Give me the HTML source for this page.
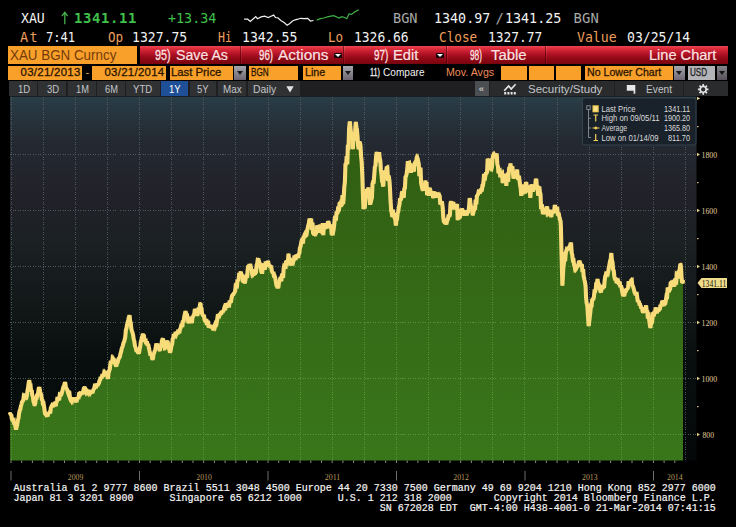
<!DOCTYPE html>
<html lang="en"><head><meta charset="utf-8"><title>XAU BGN Curncy - Line Chart</title>
<style>
html,body{margin:0;padding:0;background:#000;}
#app{position:relative;width:736px;height:527px;background:#000;overflow:hidden;font-family:"Liberation Sans",sans-serif;}
.t{position:absolute;white-space:pre;display:block;transform-origin:0 50%;}
.b{position:absolute;}
.bd{-webkit-text-stroke:0.3px currentColor;}
.bd2{-webkit-text-stroke:0.2px currentColor;}
.or{background:#f9a02a;}
.red{background:linear-gradient(#ee4452 0%,#dc2c3a 15%,#b8152a 40%,#960a18 65%,#78040e 100%);}
.dd{background:linear-gradient(#a6a6ae,#6e6672);}
.dd:after{content:"";position:absolute;left:50%;top:50%;margin:-1.5px 0 0 -3px;border:3px solid transparent;border-top:4px solid #1a1a1a;border-bottom:0;}
.sep{background:linear-gradient(#f0606a,#c02030 40%,#8a0c18);width:1px;box-shadow:-1px 0 0 rgba(70,0,8,.55);}
.ddw{background:#14060a;border-radius:1px;}
.ddw:after{content:"";position:absolute;left:50%;top:50%;margin:-1.4px 0 0 -3px;border:3px solid transparent;border-top:3px solid #fff;border-bottom:0;}
#foot{position:absolute;left:13.6px;top:484.1px;-webkit-text-stroke:0.2px #f4f4f4;margin:0;font:10px/10px "Liberation Mono","DejaVu Sans Mono",monospace;color:#f4f4f4;white-space:pre;letter-spacing:0;}
</style></head>
<body><div id="app">
<svg width="736" height="46" viewBox="0 0 736 46" style="position:absolute;left:0;top:0"><polyline points="244.1,19.2 247.7,19.2 250.3,21.4 253.9,18.3 255.7,16.6 257.5,18.7 261.1,16.9 264.7,16.2 268.3,17.5 271,16.2 273.7,15.1 275.5,17.5 278.1,18 280.8,20.5 284.4,22.8 287.1,25.2 289.8,23.4 292.5,21 295.2,19.8 297.9,19.2 300.6,18.3 304.1,18.7 307.7,18.3 310.4,21 313.5,20.5" fill="none" stroke="#f0f0f0" stroke-width="1.2"/><polyline points="316.7,20.1 320.3,18.7 323.9,18 327.5,16.9 331,16.2 333.7,15.7 336.4,16.9 339.1,18 341.8,16.6 344.5,17.5 346.8,18.7 349,13.9 351.7,14.4 354.4,12.1 358.8,9.7" fill="none" stroke="#3fae45" stroke-width="1.2"/><path d="M64.8,24.2 V12.6 M61.9,16.2 L64.8,12.3 L67.7,16.2" fill="none" stroke="#48b44e" stroke-width="1.25"/></svg>
<div class="b or" style="left:8px;top:46.4px;width:129.00px;height:18.00px;"></div>
<div class="b red" style="left:140px;top:46.4px;width:587.75px;height:18.10px;"></div>
<div class="b sep" style="left:241px;top:46.4px;width:1.00px;height:18.10px;"></div>
<div class="b sep" style="left:344px;top:46.4px;width:1.00px;height:18.10px;"></div>
<div class="b sep" style="left:446.5px;top:46.4px;width:1.00px;height:18.10px;"></div>
<div class="b sep" style="left:546px;top:46.4px;width:1.00px;height:18.10px;"></div>
<div class="b ddw" style="left:333.8px;top:53px;width:8.00px;height:4.90px;"></div>
<div class="b ddw" style="left:435.6px;top:53px;width:8.00px;height:4.90px;"></div>
<div class="b or" style="left:8px;top:65.75px;width:74.00px;height:14.45px;"></div>
<div class="b or" style="left:92px;top:65.75px;width:73.50px;height:14.45px;"></div>
<div class="b or" style="left:170px;top:65.75px;width:62.50px;height:14.45px;"></div>
<div class="b dd" style="left:234px;top:65.75px;width:11.50px;height:14.45px;"></div>
<div class="b or" style="left:249px;top:65.75px;width:49.00px;height:14.45px;"></div>
<div class="b or" style="left:302.5px;top:65.75px;width:38.50px;height:14.45px;"></div>
<div class="b dd" style="left:342.5px;top:65.75px;width:10.00px;height:14.45px;"></div>
<div class="b or" style="left:501px;top:65.75px;width:26.00px;height:14.45px;"></div>
<div class="b or" style="left:528.75px;top:65.75px;width:25.00px;height:14.45px;"></div>
<div class="b or" style="left:555.5px;top:65.75px;width:25.00px;height:14.45px;"></div>
<div class="b or" style="left:585px;top:65.75px;width:87.50px;height:14.45px;"></div>
<div class="b dd" style="left:674px;top:65.75px;width:10.50px;height:14.45px;"></div>
<div class="b " style="left:688px;top:65.75px;width:26.50px;height:14.45px;background:#b4b4b8"></div>
<div class="b dd" style="left:717px;top:65.75px;width:10.00px;height:14.45px;opacity:.8"></div>
<div class="b " style="left:8.5px;top:81.3px;width:719.25px;height:14.90px;background:#1f1f21"></div>
<div class="b " style="left:9px;top:81.3px;width:28.00px;height:14.90px;background:#303133"></div>
<div class="b " style="left:38px;top:81.3px;width:28.00px;height:14.90px;background:#303133"></div>
<div class="b " style="left:67.5px;top:81.3px;width:28.00px;height:14.90px;background:#303133"></div>
<div class="b " style="left:97px;top:81.3px;width:28.00px;height:14.90px;background:#303133"></div>
<div class="b " style="left:126px;top:81.3px;width:34.00px;height:14.90px;background:#303133"></div>
<div class="b " style="left:189.5px;top:81.3px;width:26.50px;height:14.90px;background:#303133"></div>
<div class="b " style="left:217.5px;top:81.3px;width:28.50px;height:14.90px;background:#303133"></div>
<div class="b " style="left:247.5px;top:81.3px;width:52.50px;height:14.90px;background:#303133"></div>
<div class="b " style="left:160.5px;top:81.3px;width:27.50px;height:14.90px;background:#1f4f96"></div>
<div class="b " style="left:474.5px;top:81.3px;width:14.25px;height:14.90px;background:#4c4f52"></div>
<div class="b " style="left:489.5px;top:81.3px;width:124.00px;height:14.90px;background:#2a2b2d"></div>
<div class="b " style="left:614.5px;top:81.3px;width:68.00px;height:14.90px;background:#2a2b2d"></div>
<div class="b " style="left:683.5px;top:81.3px;width:44.25px;height:14.90px;background:#2a2b2d"></div>
<svg width="736" height="100" viewBox="0 0 736 100" style="position:absolute;left:0;top:0">
<path d="M286.3,86.3 h7.4 l-3.7,6.2 z" fill="#e4e4e4"/>
<path d="M504.2,92 h2 v2.6 h-2z M507.4,92 h2 v2.6 h-2z M510.6,92 h2 v2.6 h-2z M513.8,92 h2 v2.6 h-2z" fill="#e6e6e6"/>
<path d="M504.2,90.8 L508.6,86 L511.2,89 L515.6,84.2" stroke="#e6e6e6" stroke-width="1.7" fill="none"/>
<path d="M626.8,84.9 h8.5 v8.8 h-1.7 v-3 h-6.8 z" fill="#e8e8e8"/>
<g transform="translate(703.2,89.4)"><circle r="3.0" fill="none" stroke="#e4e4e4" stroke-width="1.7"/><path d="M3.40,0.00 L5.30,0.00 M2.40,2.40 L3.75,3.75 M0.00,3.40 L0.00,5.30 M-2.40,2.40 L-3.75,3.75 M-3.40,0.00 L-5.30,0.00 M-2.40,-2.40 L-3.75,-3.75 M-0.00,-3.40 L-0.00,-5.30 M2.40,-2.40 L3.75,-3.75" stroke="#e4e4e4" stroke-width="1.7" fill="none"/></g>
</svg>
<svg id="chart" width="736" height="527" viewBox="0 0 736 527" style="position:absolute;left:0;top:0">
<defs>
<linearGradient id="bg" x1="0" y1="0" x2="0" y2="1">
<stop offset="0" stop-color="#2b3f49"/><stop offset="0.025" stop-color="#283842"/><stop offset="0.12" stop-color="#242a32"/><stop offset="0.257" stop-color="#22222a"/><stop offset="0.42" stop-color="#1a2022"/><stop offset="0.575" stop-color="#121818"/><stop offset="0.73" stop-color="#080e0e"/><stop offset="1" stop-color="#050808"/>
</linearGradient>
<linearGradient id="gr" gradientUnits="userSpaceOnUse" x1="0" y1="120" x2="0" y2="460">
<stop offset="0" stop-color="#305c12"/><stop offset="1" stop-color="#39761a"/>
</linearGradient>
</defs>
<rect x="10" y="96.5" width="686.5" height="364.0" fill="url(#bg)"/>
<path d="M11.0,96.5 V460.5 M43.1,96.5 V460.5 M75.2,96.5 V460.5 M107.4,96.5 V460.5 M139.5,96.5 V460.5 M171.6,96.5 V460.5 M203.7,96.5 V460.5 M235.8,96.5 V460.5 M268.0,96.5 V460.5 M300.1,96.5 V460.5 M332.2,96.5 V460.5 M364.3,96.5 V460.5 M396.4,96.5 V460.5 M428.6,96.5 V460.5 M460.7,96.5 V460.5 M492.8,96.5 V460.5 M524.9,96.5 V460.5 M557.0,96.5 V460.5 M589.2,96.5 V460.5 M621.3,96.5 V460.5 M653.4,96.5 V460.5 M685.5,96.5 V460.5 M10,154.5 H696.5 M10,210.5 H696.5 M10,266.5 H696.5 M10,322.5 H696.5 M10,378.5 H696.5 M10,434.5 H696.5" stroke="#5b686c" stroke-opacity="0.8" stroke-width="1" stroke-dasharray="1,1.5" fill="none" shape-rendering="crispEdges"/>
<defs><path id="ar" d="M10.1,460.5 L10.1,413.4 L10.4,414.0 L10.7,414.6 L11.0,414.8 L11.3,415.0 L11.6,417.0 L11.9,419.1 L12.2,419.8 L12.5,420.5 L12.8,420.7 L13.0,420.9 L13.1,421.0 L13.4,420.6 L13.7,420.2 L14.0,422.4 L14.3,424.7 L14.6,424.1 L14.9,423.5 L15.2,425.2 L15.5,427.0 L15.8,428.7 L16.0,429.6 L16.1,429.2 L16.4,427.9 L16.7,426.8 L17.0,425.4 L17.3,423.9 L17.6,421.9 L17.9,419.9 L18.0,419.7 L18.2,419.1 L18.5,418.3 L18.8,415.9 L19.1,413.4 L19.4,412.1 L19.7,410.7 L20.0,409.8 L20.3,409.5 L20.6,407.8 L20.9,406.0 L21.2,405.1 L21.5,404.1 L21.8,402.8 L22.0,401.9 L22.1,401.6 L22.4,401.5 L22.7,401.4 L23.0,400.6 L23.3,399.9 L23.6,397.5 L23.9,395.2 L24.0,395.3 L24.2,395.9 L24.5,396.8 L24.8,397.2 L25.1,397.6 L25.4,396.2 L25.7,394.7 L26.0,395.9 L26.3,397.0 L26.5,397.3 L26.6,396.9 L26.9,395.8 L27.2,393.1 L27.5,390.4 L27.8,389.0 L28.1,387.6 L28.4,385.1 L28.7,382.9 L29.0,381.2 L29.2,380.2 L29.3,380.5 L29.6,382.4 L29.9,385.0 L30.2,385.2 L30.5,385.1 L30.8,388.4 L31.1,391.8 L31.4,390.9 L31.7,390.0 L31.9,391.9 L32.0,392.8 L32.3,395.6 L32.6,396.0 L32.9,396.5 L33.2,399.1 L33.5,401.7 L33.8,402.4 L34.1,403.1 L34.4,404.5 L34.5,404.8 L34.7,404.8 L35.0,404.0 L35.3,403.0 L35.6,400.7 L35.9,398.4 L36.2,399.0 L36.5,399.7 L36.8,396.8 L37.1,394.0 L37.2,394.2 L37.4,394.5 L37.7,394.8 L38.0,393.2 L38.3,391.5 L38.6,389.6 L38.9,388.0 L39.2,387.4 L39.3,387.1 L39.5,388.2 L39.8,389.7 L40.1,391.2 L40.4,392.5 L40.7,393.7 L41.0,394.3 L41.3,395.0 L41.6,397.4 L41.9,399.9 L42.0,400.0 L42.2,400.1 L42.5,400.2 L42.8,402.8 L43.1,405.4 L43.4,404.9 L43.7,404.4 L44.0,406.3 L44.3,408.2 L44.6,410.5 L44.9,412.9 L45.2,414.1 L45.5,414.4 L45.8,413.5 L46.1,412.5 L46.4,414.0 L46.7,415.5 L47.0,415.3 L47.3,415.1 L47.6,415.3 L47.8,415.4 L47.9,415.1 L48.2,414.2 L48.5,413.2 L48.8,413.0 L49.1,412.7 L49.4,412.3 L49.7,411.8 L50.0,412.0 L50.3,412.1 L50.6,409.8 L50.9,407.4 L51.2,407.0 L51.5,406.5 L51.8,405.6 L52.1,405.1 L52.4,406.1 L52.7,407.1 L53.0,405.2 L53.3,403.3 L53.6,403.9 L53.9,404.6 L54.2,403.9 L54.5,403.2 L54.8,403.3 L55.1,403.5 L55.4,404.8 L55.7,406.2 L56.0,404.0 L56.3,401.9 L56.6,401.7 L56.9,401.5 L57.1,400.2 L57.2,399.4 L57.5,397.0 L57.8,398.8 L58.1,400.5 L58.4,399.6 L58.7,398.7 L59.0,398.7 L59.3,398.8 L59.6,396.3 L59.9,393.9 L60.2,394.1 L60.5,394.4 L60.8,394.6 L61.1,394.8 L61.4,394.1 L61.7,393.4 L62.0,392.2 L62.3,391.1 L62.6,390.0 L62.9,388.9 L63.2,387.7 L63.5,386.5 L63.8,386.2 L64.1,385.9 L64.4,384.5 L64.7,383.1 L65.0,382.4 L65.1,382.1 L65.3,383.1 L65.6,385.3 L65.9,388.1 L66.2,388.4 L66.5,388.4 L66.8,388.9 L67.1,389.4 L67.4,390.5 L67.7,391.5 L67.7,391.5 L68.0,390.9 L68.3,390.2 L68.6,392.3 L68.9,394.4 L69.2,394.0 L69.5,393.7 L69.8,396.1 L70.1,398.4 L70.4,399.3 L70.7,400.1 L71.0,399.8 L71.3,399.5 L71.6,400.9 L71.7,401.3 L71.9,401.7 L72.2,400.5 L72.5,399.3 L72.8,400.3 L73.1,401.2 L73.4,399.4 L73.7,397.5 L74.0,398.4 L74.3,399.2 L74.6,399.7 L74.9,400.1 L75.2,400.7 L75.5,401.3 L75.8,401.3 L76.1,401.3 L76.4,401.2 L76.7,401.2 L77.0,399.8 L77.0,399.8 L77.3,398.0 L77.6,398.0 L77.9,397.9 L78.2,398.5 L78.5,399.0 L78.8,396.1 L79.1,393.2 L79.4,393.0 L79.7,392.8 L80.0,393.8 L80.3,394.8 L80.6,394.4 L80.9,394.1 L81.0,394.0 L81.2,393.8 L81.5,393.6 L81.8,393.2 L82.1,392.8 L82.4,393.6 L82.7,394.4 L83.0,392.7 L83.3,390.9 L83.6,389.5 L83.9,388.1 L84.2,387.8 L84.5,387.5 L84.8,387.6 L85.0,387.7 L85.1,387.9 L85.4,388.8 L85.7,389.8 L86.0,389.8 L86.3,389.8 L86.6,391.6 L86.9,393.4 L87.2,393.0 L87.5,392.6 L87.8,392.0 L88.1,391.4 L88.4,391.5 L88.7,391.6 L89.0,390.9 L89.0,390.9 L89.3,390.0 L89.6,391.8 L89.9,393.7 L90.2,393.2 L90.5,392.7 L90.8,392.6 L91.1,392.4 L91.4,391.3 L91.7,390.2 L92.0,391.8 L92.3,393.4 L92.6,392.3 L92.9,391.1 L93.0,391.0 L93.2,390.3 L93.5,389.3 L93.8,389.1 L94.1,388.8 L94.4,387.5 L94.7,386.2 L95.0,386.6 L95.3,387.1 L95.6,387.8 L95.9,388.4 L96.2,386.0 L96.5,383.5 L96.8,384.6 L97.0,385.3 L97.1,385.6 L97.4,385.5 L97.7,385.4 L98.0,384.6 L98.3,383.9 L98.6,383.6 L98.9,383.4 L99.2,381.9 L99.5,380.5 L99.8,380.3 L100.1,380.1 L100.4,378.5 L100.7,376.8 L101.0,377.5 L101.0,377.5 L101.3,378.6 L101.6,377.7 L101.9,376.9 L102.2,375.4 L102.5,373.9 L102.8,375.4 L103.1,376.9 L103.4,375.9 L103.7,375.0 L104.0,373.5 L104.3,372.0 L104.6,372.5 L104.9,373.0 L105.0,372.8 L105.2,373.0 L105.5,373.2 L105.8,373.0 L106.1,372.7 L106.4,374.5 L106.7,376.2 L107.0,375.5 L107.3,374.8 L107.6,377.8 L107.9,378.9 L108.2,376.1 L108.5,373.3 L108.8,372.1 L109.1,370.9 L109.4,370.3 L109.7,369.7 L110.0,367.2 L110.3,364.7 L110.6,362.8 L110.9,360.8 L111.2,361.5 L111.5,362.1 L111.8,362.5 L112.1,363.0 L112.4,360.4 L112.7,357.7 L112.9,358.0 L113.0,358.5 L113.3,360.0 L113.6,359.9 L113.9,359.8 L114.2,362.1 L114.5,364.4 L114.8,362.4 L115.1,360.5 L115.4,362.9 L115.7,365.3 L116.0,365.9 L116.3,366.6 L116.6,365.1 L116.9,363.6 L116.9,363.6 L117.2,361.6 L117.5,359.5 L117.8,360.1 L118.1,360.6 L118.4,359.4 L118.7,358.1 L119.0,358.0 L119.3,358.0 L119.6,357.3 L119.9,356.6 L120.2,355.1 L120.5,353.6 L120.8,352.7 L120.9,352.4 L121.1,351.8 L121.4,350.3 L121.7,348.7 L122.0,348.0 L122.3,347.3 L122.6,346.3 L122.9,345.3 L123.2,344.0 L123.5,342.7 L123.8,342.2 L124.1,341.8 L124.4,340.6 L124.7,339.5 L124.9,338.7 L125.0,338.2 L125.3,336.6 L125.6,333.3 L125.9,329.9 L126.2,329.0 L126.5,328.2 L126.8,326.3 L127.0,325.0 L127.1,324.3 L127.4,323.3 L127.7,322.2 L128.0,321.0 L128.3,319.8 L128.6,318.2 L128.9,316.9 L129.2,316.4 L129.5,315.2 L129.8,317.7 L130.1,320.8 L130.4,321.9 L130.7,322.4 L131.0,325.6 L131.3,328.7 L131.6,329.8 L131.9,330.9 L132.2,331.7 L132.5,332.6 L132.8,333.8 L133.1,335.0 L133.4,337.1 L133.7,339.2 L134.0,340.2 L134.3,341.1 L134.6,343.4 L134.9,345.6 L135.2,346.4 L135.5,347.3 L135.8,348.1 L136.1,349.0 L136.2,350.1 L136.4,350.7 L136.7,351.9 L137.0,350.7 L137.3,349.5 L137.6,350.9 L137.9,352.2 L138.2,352.8 L138.5,353.4 L138.8,353.8 L138.8,353.6 L139.1,352.4 L139.4,350.6 L139.7,348.8 L140.0,347.1 L140.3,345.5 L140.6,343.3 L140.9,341.2 L141.2,340.5 L141.5,339.9 L141.8,338.3 L142.1,336.6 L142.4,335.6 L142.7,334.5 L143.0,333.7 L143.3,335.0 L143.6,335.5 L143.9,335.6 L144.2,338.2 L144.5,340.9 L144.8,341.1 L145.1,341.3 L145.4,340.9 L145.7,340.6 L146.0,342.3 L146.2,343.8 L146.3,344.0 L146.6,342.6 L146.9,341.1 L147.2,343.4 L147.5,345.8 L147.8,344.8 L148.1,343.8 L148.4,345.2 L148.7,346.7 L149.0,348.1 L149.3,349.5 L149.5,350.3 L149.6,350.9 L149.9,352.4 L150.2,354.1 L150.5,355.8 L150.8,354.7 L151.1,353.6 L151.4,354.5 L151.7,355.6 L152.0,357.6 L152.3,359.2 L152.5,360.0 L152.6,359.6 L152.9,358.6 L153.2,356.7 L153.5,354.3 L153.8,353.7 L154.1,353.1 L154.4,352.0 L154.7,350.9 L155.0,350.4 L155.3,349.9 L155.6,348.1 L155.9,346.2 L156.2,344.7 L156.2,344.5 L156.5,344.5 L156.8,344.6 L157.1,344.6 L157.4,344.5 L157.7,344.5 L158.0,346.0 L158.3,347.5 L158.6,347.8 L158.9,348.1 L159.2,349.1 L159.5,350.1 L159.8,350.0 L160.0,350.0 L160.1,349.5 L160.4,348.2 L160.7,347.0 L161.0,346.5 L161.3,346.0 L161.6,343.6 L161.9,341.1 L162.2,340.1 L162.5,339.1 L162.8,339.2 L163.1,339.3 L163.4,340.4 L163.7,341.5 L164.0,342.9 L164.3,344.3 L164.6,346.4 L164.9,348.5 L165.0,348.4 L165.2,347.5 L165.5,346.1 L165.8,345.2 L166.1,344.3 L166.4,342.5 L166.7,340.6 L167.0,341.2 L167.3,341.7 L167.5,341.2 L167.6,341.6 L167.9,342.8 L168.2,344.6 L168.5,346.4 L168.8,347.7 L169.1,348.9 L169.4,350.1 L169.7,351.3 L170.0,352.8 L170.3,351.9 L170.6,350.7 L170.9,349.3 L171.2,347.2 L171.5,345.2 L171.8,344.9 L172.1,344.5 L172.4,341.7 L172.7,338.8 L173.0,338.4 L173.3,338.1 L173.6,335.8 L173.8,334.6 L173.9,334.0 L174.2,335.6 L174.5,337.1 L174.8,335.9 L175.1,334.6 L175.4,335.2 L175.7,335.9 L176.0,335.1 L176.3,334.4 L176.6,333.1 L176.9,331.7 L177.2,333.1 L177.5,334.4 L177.8,332.7 L178.1,331.0 L178.4,331.1 L178.7,331.2 L178.8,331.4 L179.0,332.2 L179.3,333.2 L179.6,331.2 L179.9,329.2 L180.2,328.8 L180.5,328.4 L180.8,327.3 L181.1,326.2 L181.4,324.8 L181.7,323.5 L182.0,325.3 L182.3,327.2 L182.5,325.3 L182.6,324.1 L182.9,320.3 L183.2,321.2 L183.5,322.2 L183.8,320.0 L184.1,317.7 L184.4,316.1 L184.7,314.5 L185.0,313.3 L185.3,312.0 L185.5,311.2 L185.6,311.5 L185.9,312.6 L186.2,314.0 L186.5,315.5 L186.8,315.4 L187.1,315.2 L187.4,316.7 L187.7,318.1 L188.0,320.2 L188.3,322.2 L188.6,322.2 L188.8,322.2 L188.9,321.4 L189.2,320.5 L189.5,319.6 L189.8,320.4 L190.1,321.2 L190.4,321.3 L190.7,321.5 L191.0,319.7 L191.3,317.9 L191.6,320.4 L191.9,323.0 L192.2,320.1 L192.5,317.1 L192.8,316.9 L193.1,316.6 L193.4,315.7 L193.7,314.8 L194.0,314.4 L194.3,314.1 L194.6,311.5 L194.9,308.8 L195.0,309.2 L195.2,310.3 L195.5,312.1 L195.8,311.6 L196.1,311.1 L196.4,311.6 L196.7,312.0 L197.0,313.5 L197.3,315.0 L197.5,315.0 L197.6,314.6 L197.9,313.5 L198.2,310.6 L198.5,307.7 L198.8,308.3 L199.1,308.9 L199.4,307.7 L199.7,306.5 L200.0,304.9 L200.3,303.7 L200.5,303.8 L200.6,304.5 L200.9,307.5 L201.2,308.4 L201.5,308.6 L201.8,311.2 L202.1,313.7 L202.4,314.3 L202.7,314.9 L203.0,315.4 L203.3,315.8 L203.6,315.4 L203.8,315.3 L203.9,314.7 L204.2,317.2 L204.5,319.7 L204.8,320.5 L205.1,321.2 L205.4,321.5 L205.7,321.8 L206.0,320.4 L206.3,319.0 L206.6,322.1 L206.9,325.1 L207.2,323.5 L207.5,321.8 L207.8,321.9 L208.1,321.9 L208.4,324.8 L208.7,327.7 L209.0,327.1 L209.3,326.5 L209.6,325.6 L209.9,324.7 L210.2,326.0 L210.5,327.2 L210.8,326.2 L211.1,325.2 L211.4,326.8 L211.7,328.4 L212.0,327.5 L212.3,326.6 L212.6,327.7 L212.9,328.8 L213.0,329.0 L213.2,328.8 L213.5,328.3 L213.8,327.5 L214.1,326.6 L214.4,327.2 L214.7,327.8 L215.0,326.6 L215.3,325.4 L215.6,324.1 L215.9,322.7 L216.2,323.0 L216.2,323.1 L216.5,323.6 L216.8,321.8 L217.1,320.0 L217.4,318.0 L217.7,316.0 L218.0,316.2 L218.3,316.4 L218.6,315.2 L218.9,314.1 L219.2,314.9 L219.5,315.7 L219.8,314.9 L220.0,314.3 L220.1,314.0 L220.4,313.6 L220.7,313.2 L221.0,313.4 L221.3,313.5 L221.6,312.2 L221.9,310.9 L222.2,311.8 L222.5,312.8 L222.8,311.9 L223.1,311.0 L223.4,310.7 L223.7,310.5 L224.0,309.2 L224.3,307.8 L224.6,307.0 L224.9,306.2 L225.0,306.4 L225.2,306.8 L225.5,307.3 L225.8,305.2 L226.1,303.1 L226.4,304.8 L226.7,306.6 L227.0,306.6 L227.3,306.6 L227.6,305.6 L227.9,304.5 L228.2,304.8 L228.5,305.2 L228.8,305.5 L229.1,305.7 L229.4,303.0 L229.7,300.3 L230.0,301.4 L230.3,302.2 L230.6,302.2 L230.9,302.1 L231.2,300.3 L231.5,298.4 L231.8,297.1 L232.1,295.8 L232.4,295.2 L232.7,294.6 L233.0,294.6 L233.3,294.6 L233.6,294.0 L233.8,293.6 L233.9,293.2 L234.2,292.8 L234.5,292.5 L234.8,291.9 L235.1,291.2 L235.4,288.6 L235.7,285.9 L236.0,286.3 L236.3,286.6 L236.6,286.8 L236.9,286.9 L237.2,283.3 L237.5,279.6 L237.8,280.3 L238.1,281.1 L238.4,280.0 L238.7,278.8 L239.0,275.9 L239.3,272.9 L239.6,273.4 L239.9,273.8 L240.2,273.3 L240.5,272.5 L240.8,271.5 L240.8,271.8 L241.1,273.4 L241.4,274.1 L241.7,274.3 L242.0,275.3 L242.3,276.3 L242.6,279.3 L242.9,282.1 L243.2,281.6 L243.5,281.8 L243.8,282.5 L243.8,282.3 L244.1,281.1 L244.4,281.8 L244.7,283.4 L245.0,282.1 L245.3,280.8 L245.6,278.8 L245.9,276.7 L246.2,275.7 L246.5,274.7 L246.8,276.3 L247.0,277.3 L247.1,277.8 L247.4,273.6 L247.7,269.4 L248.0,267.4 L248.3,265.4 L248.6,266.2 L248.9,266.7 L249.2,265.3 L249.5,264.0 L249.5,264.0 L249.8,265.5 L250.1,267.2 L250.4,267.1 L250.7,266.6 L251.0,268.1 L251.3,269.6 L251.6,271.2 L251.9,272.7 L252.2,274.3 L252.5,275.4 L252.5,275.4 L252.8,274.9 L253.1,274.0 L253.4,274.9 L253.7,275.7 L254.0,272.5 L254.3,269.3 L254.6,272.0 L254.9,274.8 L255.2,272.2 L255.5,269.5 L255.8,270.0 L256.1,270.4 L256.2,269.3 L256.4,267.8 L256.7,264.8 L257.0,264.1 L257.3,263.4 L257.6,260.6 L257.9,258.6 L258.2,258.4 L258.2,258.3 L258.5,259.4 L258.8,260.4 L259.1,261.5 L259.4,263.6 L259.7,265.6 L260.0,265.4 L260.3,265.1 L260.6,267.2 L260.9,269.3 L261.2,270.9 L261.2,271.2 L261.5,271.2 L261.8,272.5 L262.1,273.8 L262.4,270.9 L262.7,268.0 L263.0,265.8 L263.3,263.5 L263.6,264.8 L263.9,266.2 L264.2,267.4 L264.5,268.6 L264.8,268.7 L265.0,268.7 L265.1,268.5 L265.4,265.0 L265.7,261.4 L266.0,263.8 L266.3,266.3 L266.6,265.7 L266.9,265.1 L267.2,263.8 L267.5,262.3 L267.8,261.5 L268.0,260.8 L268.1,261.4 L268.4,262.8 L268.7,263.9 L269.0,264.8 L269.3,265.4 L269.6,265.5 L269.9,265.6 L270.2,266.7 L270.5,267.8 L270.8,266.6 L271.1,265.4 L271.2,266.7 L271.4,267.9 L271.7,270.3 L272.0,271.4 L272.3,272.4 L272.6,272.7 L272.9,273.0 L273.2,272.9 L273.5,272.9 L273.8,275.2 L274.1,277.5 L274.4,276.8 L274.7,276.2 L275.0,277.0 L275.3,278.4 L275.6,280.2 L275.9,282.0 L276.2,283.7 L276.5,285.3 L276.8,285.2 L277.1,285.8 L277.4,287.8 L277.5,288.4 L277.7,287.7 L278.0,287.5 L278.3,288.0 L278.6,285.5 L278.9,282.8 L279.2,281.7 L279.5,280.6 L279.8,279.8 L280.1,279.0 L280.4,277.8 L280.5,277.4 L280.7,276.9 L281.0,279.1 L281.3,281.3 L281.6,278.2 L281.9,275.1 L282.2,274.4 L282.5,273.7 L282.8,275.8 L283.1,278.0 L283.4,273.1 L283.7,268.1 L283.8,267.9 L284.0,266.8 L284.3,265.3 L284.6,265.6 L284.9,265.9 L285.2,267.5 L285.5,269.0 L285.8,264.8 L286.1,260.5 L286.2,261.7 L286.4,263.0 L286.7,265.8 L287.0,263.0 L287.3,260.2 L287.6,261.0 L287.9,261.9 L288.2,257.7 L288.5,253.6 L288.8,256.9 L289.1,260.3 L289.4,259.5 L289.5,259.3 L289.7,259.5 L290.0,259.4 L290.3,259.3 L290.6,262.5 L290.9,265.6 L291.2,262.7 L291.5,259.8 L291.8,261.4 L292.1,262.9 L292.4,263.6 L292.5,263.9 L292.7,264.0 L293.0,262.6 L293.3,261.3 L293.6,260.7 L293.9,260.1 L294.2,257.8 L294.5,255.5 L294.8,257.2 L295.1,258.9 L295.4,258.9 L295.7,258.9 L296.0,256.9 L296.2,255.3 L296.3,254.9 L296.6,256.4 L296.9,257.8 L297.2,256.0 L297.5,254.1 L297.8,256.1 L298.1,258.0 L298.4,256.0 L298.7,254.0 L299.0,253.7 L299.3,253.4 L299.5,251.9 L299.6,251.0 L299.9,248.1 L300.2,247.3 L300.5,246.6 L300.8,244.9 L301.1,243.2 L301.4,241.8 L301.7,240.3 L302.0,239.5 L302.3,238.6 L302.5,240.1 L302.6,241.0 L302.9,243.7 L303.2,240.4 L303.5,237.1 L303.8,237.1 L304.1,237.1 L304.4,235.8 L304.7,234.5 L305.0,233.9 L305.3,233.3 L305.6,234.5 L305.9,235.8 L306.2,235.5 L306.5,235.2 L306.8,232.8 L307.1,230.3 L307.4,229.5 L307.5,229.2 L307.7,228.2 L308.0,226.8 L308.3,225.4 L308.6,224.3 L308.9,223.1 L309.2,220.8 L309.5,218.6 L309.8,219.6 L310.1,219.9 L310.4,219.0 L310.5,218.5 L310.7,221.0 L311.0,222.1 L311.3,221.7 L311.6,225.7 L311.9,229.8 L312.2,226.1 L312.5,222.5 L312.8,228.2 L313.0,231.9 L313.1,233.2 L313.4,233.3 L313.7,233.4 L314.0,234.3 L314.3,235.3 L314.6,233.9 L314.9,232.6 L315.2,233.4 L315.5,234.2 L315.8,233.7 L316.1,233.2 L316.2,231.4 L316.4,229.4 L316.7,225.3 L317.0,228.2 L317.3,231.1 L317.6,229.2 L317.9,227.4 L318.2,229.0 L318.5,230.6 L318.8,231.6 L319.1,232.7 L319.4,228.4 L319.5,227.0 L319.7,224.6 L320.0,227.6 L320.3,230.7 L320.6,231.0 L320.9,231.3 L321.2,228.9 L321.5,226.5 L321.8,228.6 L322.1,230.7 L322.4,227.1 L322.5,225.8 L322.7,223.0 L323.0,229.0 L323.3,235.1 L323.6,230.1 L323.9,225.0 L324.2,225.5 L324.5,226.0 L324.8,227.4 L325.0,228.3 L325.1,229.0 L325.4,226.2 L325.7,223.3 L326.0,223.8 L326.3,224.4 L326.6,225.5 L326.9,226.5 L327.2,227.4 L327.5,228.2 L327.8,224.6 L328.1,221.0 L328.4,221.7 L328.7,222.3 L329.0,224.2 L329.3,226.1 L329.6,227.0 L329.9,227.9 L330.0,227.2 L330.2,226.7 L330.5,226.0 L330.8,225.3 L331.1,224.6 L331.4,230.3 L331.7,234.2 L332.0,235.1 L332.3,233.3 L332.6,232.9 L332.9,233.2 L333.2,231.7 L333.5,230.2 L333.8,228.0 L334.1,225.9 L334.4,222.8 L334.5,221.8 L334.7,219.7 L335.0,217.6 L335.3,215.6 L335.6,218.1 L335.9,220.7 L336.2,217.0 L336.5,213.2 L336.8,213.4 L337.0,213.5 L337.1,213.9 L337.4,213.2 L337.7,212.6 L338.0,209.5 L338.3,206.4 L338.6,208.8 L338.9,211.3 L339.2,207.4 L339.5,203.4 L339.8,202.8 L340.0,202.3 L340.1,202.0 L340.4,204.5 L340.7,207.1 L341.0,204.6 L341.3,202.1 L341.6,202.4 L341.9,202.8 L342.2,199.0 L342.5,195.2 L342.8,197.7 L343.0,202.8 L343.1,204.1 L343.4,200.8 L343.7,197.5 L344.0,192.4 L344.3,187.3 L344.6,184.7 L344.9,182.1 L345.2,172.8 L345.5,163.4 L345.8,164.3 L346.1,165.2 L346.4,160.7 L346.7,156.1 L347.0,160.1 L347.3,164.3 L347.6,154.7 L347.9,144.9 L348.2,147.2 L348.5,149.6 L348.8,138.7 L348.9,135.1 L349.1,128.5 L349.4,125.4 L349.7,122.7 L349.9,121.4 L350.0,122.5 L350.3,126.2 L350.6,129.3 L350.9,132.3 L351.2,132.7 L351.5,133.1 L351.8,134.8 L352.1,137.4 L352.4,143.1 L352.7,147.7 L352.9,149.1 L353.0,146.8 L353.3,141.2 L353.6,140.1 L353.9,141.0 L354.2,138.4 L354.5,135.3 L354.8,134.4 L355.1,132.8 L355.4,127.5 L355.7,123.0 L355.8,121.8 L356.0,123.8 L356.3,126.6 L356.6,128.1 L356.9,129.3 L357.2,133.1 L357.5,136.2 L357.8,141.0 L358.1,145.7 L358.4,147.6 L358.7,149.4 L358.9,147.0 L359.0,145.8 L359.3,142.4 L359.6,142.4 L359.9,142.5 L360.2,144.2 L360.5,145.9 L360.8,151.4 L361.1,156.7 L361.2,157.2 L361.4,158.9 L361.7,162.3 L362.0,168.9 L362.3,175.3 L362.6,184.4 L362.9,193.4 L363.0,196.6 L363.2,201.7 L363.5,209.2 L363.8,205.2 L364.1,202.9 L364.4,206.5 L364.5,207.1 L364.7,208.5 L365.0,205.4 L365.3,199.1 L365.6,198.1 L365.9,197.1 L366.2,192.8 L366.2,192.2 L366.5,190.6 L366.8,190.0 L367.1,189.4 L367.4,192.4 L367.7,195.4 L368.0,191.4 L368.3,187.4 L368.6,189.6 L368.8,190.6 L368.9,192.5 L369.2,196.2 L369.5,199.8 L369.8,201.1 L370.1,204.9 L370.4,202.9 L370.7,200.4 L371.0,200.1 L371.2,200.4 L371.3,200.0 L371.6,198.7 L371.9,198.0 L372.2,191.5 L372.5,184.0 L372.8,182.9 L373.1,181.7 L373.4,181.8 L373.7,182.0 L373.8,181.4 L374.0,178.2 L374.3,174.3 L374.6,170.5 L374.9,166.7 L375.2,166.2 L375.5,165.8 L375.8,160.7 L376.0,157.4 L376.1,156.4 L376.4,154.2 L376.7,152.0 L377.0,155.2 L377.3,158.4 L377.6,156.9 L377.9,157.6 L378.2,159.9 L378.5,162.2 L378.8,157.1 L379.1,152.1 L379.4,154.9 L379.7,157.7 L380.0,159.3 L380.3,161.0 L380.5,163.6 L380.6,165.2 L380.9,169.9 L381.2,172.2 L381.5,174.6 L381.8,178.1 L382.1,181.5 L382.4,181.6 L382.7,182.6 L383.0,185.7 L383.3,186.3 L383.6,181.2 L383.9,172.6 L384.2,176.1 L384.5,179.6 L384.8,174.9 L385.0,171.8 L385.1,170.4 L385.4,171.5 L385.7,172.5 L386.0,171.1 L386.3,169.7 L386.6,167.8 L386.9,166.5 L387.2,167.4 L387.3,167.3 L387.5,170.6 L387.8,175.5 L388.1,181.0 L388.4,178.5 L388.7,175.4 L389.0,177.5 L389.3,179.7 L389.5,181.3 L389.6,182.7 L389.9,187.0 L390.2,193.6 L390.5,200.2 L390.8,204.4 L391.1,208.6 L391.2,210.9 L391.4,211.5 L391.7,212.7 L392.0,214.8 L392.3,217.0 L392.6,213.3 L392.9,209.7 L393.2,214.1 L393.5,217.1 L393.8,215.5 L393.8,215.2 L394.1,213.0 L394.4,215.7 L394.7,218.4 L395.0,218.9 L395.3,219.3 L395.6,222.4 L395.9,225.5 L396.2,222.8 L396.2,222.4 L396.5,217.9 L396.8,218.1 L397.1,218.3 L397.4,215.4 L397.7,212.6 L398.0,212.1 L398.3,211.6 L398.6,208.9 L398.8,207.5 L398.9,206.8 L399.2,205.7 L399.5,204.6 L399.8,201.3 L400.1,198.0 L400.4,199.2 L400.7,200.5 L401.0,199.2 L401.2,198.2 L401.3,197.9 L401.6,195.2 L401.9,192.5 L402.2,191.9 L402.5,191.3 L402.8,193.8 L403.1,196.4 L403.4,197.0 L403.7,197.6 L403.8,196.9 L404.0,193.2 L404.3,188.7 L404.6,188.6 L404.9,188.4 L405.2,182.6 L405.5,176.8 L405.8,176.5 L406.1,176.2 L406.2,175.3 L406.4,174.7 L406.7,173.7 L407.0,171.0 L407.3,168.3 L407.6,164.6 L407.9,161.2 L408.2,162.5 L408.5,163.2 L408.8,162.9 L408.8,162.9 L409.1,162.6 L409.4,165.6 L409.7,170.5 L410.0,166.8 L410.3,163.1 L410.6,168.1 L410.9,173.0 L411.2,169.1 L411.5,165.2 L411.8,167.4 L411.8,167.5 L412.1,168.6 L412.4,168.1 L412.7,167.6 L413.0,168.5 L413.3,169.4 L413.6,170.5 L413.9,171.6 L414.2,167.8 L414.2,167.1 L414.5,163.5 L414.8,162.9 L415.1,162.4 L415.4,164.3 L415.7,166.1 L416.0,163.6 L416.3,160.8 L416.6,158.5 L416.9,157.0 L417.0,156.8 L417.2,157.5 L417.5,158.2 L417.8,159.3 L418.1,161.2 L418.4,162.4 L418.7,163.6 L418.8,164.7 L419.0,169.4 L419.3,175.0 L419.6,175.0 L419.9,175.1 L420.2,171.2 L420.5,167.5 L420.8,175.2 L421.1,182.9 L421.2,183.7 L421.4,184.4 L421.7,186.0 L422.0,187.1 L422.3,188.3 L422.6,189.6 L422.9,191.0 L423.2,187.5 L423.5,184.0 L423.8,184.8 L423.8,184.7 L424.1,183.9 L424.4,186.5 L424.7,189.1 L425.0,184.8 L425.3,180.5 L425.6,183.7 L425.9,186.9 L426.2,183.7 L426.2,183.1 L426.5,181.7 L426.8,188.4 L427.1,195.1 L427.4,192.2 L427.7,189.4 L428.0,190.2 L428.3,191.0 L428.6,193.7 L428.8,195.1 L428.9,195.8 L429.2,191.8 L429.5,187.8 L429.8,188.6 L430.1,189.4 L430.4,190.6 L430.7,191.9 L431.0,192.8 L431.2,193.6 L431.3,193.9 L431.6,193.7 L431.9,193.6 L432.2,192.3 L432.5,191.0 L432.8,194.5 L433.1,198.1 L433.4,197.3 L433.7,196.5 L433.8,196.1 L434.0,194.0 L434.3,191.4 L434.6,194.4 L434.9,197.5 L435.2,195.5 L435.5,193.5 L435.8,195.7 L436.1,197.8 L436.2,196.9 L436.4,195.8 L436.7,193.6 L437.0,193.7 L437.3,193.8 L437.6,195.1 L437.9,196.5 L438.2,196.5 L438.5,196.6 L438.8,195.2 L438.8,195.2 L439.1,194.6 L439.4,195.3 L439.7,195.9 L440.0,200.3 L440.3,204.7 L440.6,203.2 L440.9,201.8 L441.2,202.1 L441.2,202.2 L441.5,203.0 L441.8,202.9 L442.1,202.8 L442.4,205.1 L442.7,207.4 L443.0,212.6 L443.3,217.8 L443.6,219.9 L443.8,220.9 L443.9,221.7 L444.2,221.8 L444.5,222.0 L444.8,222.9 L445.1,223.8 L445.4,222.2 L445.7,220.9 L446.0,223.5 L446.2,224.2 L446.3,224.5 L446.6,223.3 L446.9,219.9 L447.2,220.0 L447.5,220.2 L447.8,219.2 L448.1,218.3 L448.4,216.3 L448.7,214.4 L448.8,214.6 L449.0,215.7 L449.3,216.9 L449.6,215.9 L449.9,214.8 L450.2,209.3 L450.5,203.6 L450.8,202.4 L451.1,201.1 L451.2,201.7 L451.4,203.3 L451.7,206.3 L452.0,207.8 L452.3,209.4 L452.6,206.3 L452.9,203.2 L453.2,203.2 L453.5,203.2 L453.8,205.0 L453.8,205.3 L454.1,206.5 L454.4,207.8 L454.7,209.1 L455.0,208.2 L455.3,207.3 L455.6,206.7 L455.9,206.0 L456.2,204.7 L456.2,204.5 L456.5,204.9 L456.8,205.0 L457.1,205.1 L457.4,212.6 L457.7,220.1 L458.0,217.1 L458.3,215.7 L458.6,217.9 L458.8,219.1 L458.9,217.9 L459.2,216.2 L459.5,215.0 L459.8,215.1 L460.1,215.5 L460.4,212.2 L460.7,209.0 L461.0,211.4 L461.2,213.5 L461.3,214.2 L461.6,211.3 L461.9,208.5 L462.2,209.2 L462.5,210.0 L462.8,210.6 L463.0,211.0 L463.1,211.0 L463.4,213.2 L463.7,215.5 L464.0,214.8 L464.3,214.1 L464.6,213.6 L464.9,213.0 L465.2,213.3 L465.5,213.6 L465.8,212.1 L466.1,210.6 L466.2,212.2 L466.4,213.4 L466.7,215.7 L467.0,212.9 L467.3,210.2 L467.6,211.3 L467.9,212.4 L468.2,212.0 L468.5,211.5 L468.8,208.9 L469.1,206.3 L469.4,202.2 L469.7,198.1 L470.0,199.4 L470.3,202.2 L470.6,204.4 L470.9,206.6 L471.2,207.4 L471.5,208.3 L471.8,207.2 L472.1,206.1 L472.4,211.2 L472.5,212.9 L472.7,215.4 L473.0,213.9 L473.3,212.4 L473.6,211.6 L473.9,210.8 L474.2,209.7 L474.5,208.6 L474.8,208.6 L475.0,208.6 L475.1,208.6 L475.4,204.1 L475.7,199.6 L476.0,202.0 L476.3,204.3 L476.6,200.1 L476.9,195.8 L477.2,195.5 L477.5,195.2 L477.8,194.7 L478.1,194.3 L478.4,192.9 L478.7,191.5 L478.8,191.6 L479.0,192.1 L479.3,192.8 L479.6,192.7 L479.9,192.7 L480.2,192.2 L480.5,191.7 L480.8,190.2 L481.1,188.6 L481.4,190.1 L481.7,191.6 L482.0,189.2 L482.3,186.7 L482.5,186.9 L482.6,186.6 L482.9,185.6 L483.2,183.8 L483.5,182.0 L483.8,177.9 L484.1,173.8 L484.4,177.2 L484.7,180.6 L485.0,178.1 L485.3,176.2 L485.6,174.8 L485.9,173.4 L486.2,173.4 L486.5,173.4 L486.8,172.7 L487.1,172.0 L487.4,165.3 L487.7,158.5 L488.0,163.0 L488.3,168.1 L488.6,165.5 L488.9,162.9 L489.2,162.1 L489.5,161.3 L489.8,162.1 L490.1,162.9 L490.4,165.2 L490.7,167.6 L491.0,168.6 L491.2,169.5 L491.3,169.6 L491.6,168.4 L491.9,167.2 L492.2,163.2 L492.5,159.1 L492.8,157.3 L493.1,155.4 L493.4,154.7 L493.7,154.1 L494.0,155.0 L494.2,154.5 L494.3,155.1 L494.6,155.5 L494.9,153.8 L495.2,155.3 L495.5,157.1 L495.8,156.1 L496.1,155.2 L496.4,154.3 L496.7,153.5 L497.0,158.9 L497.3,164.3 L497.5,164.9 L497.6,165.2 L497.9,165.9 L498.2,169.6 L498.5,173.3 L498.8,172.1 L499.1,170.8 L499.4,170.5 L499.7,170.2 L500.0,173.9 L500.3,177.4 L500.6,175.6 L500.9,173.8 L501.2,173.6 L501.5,173.4 L501.8,173.1 L502.1,172.7 L502.4,178.0 L502.7,183.2 L503.0,180.7 L503.3,177.2 L503.6,176.6 L503.9,176.0 L504.2,175.0 L504.5,174.0 L504.8,178.5 L505.1,183.0 L505.4,179.0 L505.5,177.7 L505.7,175.0 L506.0,180.5 L506.3,186.0 L506.6,180.3 L506.9,174.6 L507.2,174.3 L507.5,174.0 L507.8,177.9 L508.1,181.8 L508.4,177.4 L508.7,173.0 L508.8,172.6 L509.0,170.1 L509.3,167.0 L509.6,167.5 L509.9,168.0 L510.2,165.7 L510.5,163.4 L510.8,166.3 L511.1,169.2 L511.4,169.2 L511.7,168.5 L511.8,168.1 L512.0,167.9 L512.3,166.1 L512.6,168.6 L512.9,172.0 L513.2,175.3 L513.5,178.7 L513.8,177.1 L514.1,175.6 L514.4,173.7 L514.7,171.9 L515.0,175.3 L515.3,178.1 L515.6,174.9 L515.9,171.7 L516.2,173.2 L516.5,174.6 L516.8,172.0 L517.1,169.5 L517.4,173.7 L517.7,178.0 L518.0,178.4 L518.3,179.9 L518.6,177.8 L518.9,175.8 L519.2,177.9 L519.5,179.9 L519.8,182.7 L520.1,185.4 L520.4,186.8 L520.7,188.2 L521.0,192.1 L521.2,195.3 L521.3,195.8 L521.6,193.5 L521.9,191.2 L522.2,187.9 L522.5,184.6 L522.8,189.3 L523.1,194.0 L523.4,191.1 L523.7,188.3 L523.8,188.8 L524.0,190.0 L524.3,191.5 L524.6,191.7 L524.9,191.9 L525.2,188.5 L525.5,185.0 L525.8,183.5 L526.1,182.0 L526.2,182.5 L526.4,183.7 L526.7,186.0 L527.0,188.0 L527.3,189.9 L527.6,191.0 L527.9,192.0 L528.2,190.5 L528.5,189.0 L528.8,188.0 L528.8,187.7 L529.1,185.8 L529.4,186.4 L529.7,187.1 L530.0,192.5 L530.3,198.0 L530.6,194.2 L530.9,190.4 L531.2,187.4 L531.5,184.4 L531.8,185.3 L532.0,185.9 L532.1,186.3 L532.4,189.0 L532.7,191.6 L533.0,190.6 L533.3,189.6 L533.6,188.2 L533.9,186.8 L534.2,187.0 L534.5,187.2 L534.8,187.3 L535.0,187.3 L535.1,187.4 L535.4,183.8 L535.7,180.1 L536.0,179.5 L536.3,178.9 L536.6,183.4 L536.9,187.9 L537.2,186.6 L537.5,185.3 L537.8,190.4 L538.0,193.9 L538.1,195.8 L538.4,193.8 L538.7,191.8 L539.0,189.1 L539.3,186.5 L539.6,189.2 L539.9,191.9 L540.2,193.1 L540.5,194.2 L540.8,201.7 L541.1,209.1 L541.4,206.7 L541.7,204.2 L542.0,205.5 L542.3,206.7 L542.5,209.5 L542.6,210.7 L542.9,214.2 L543.2,213.2 L543.5,212.2 L543.8,213.2 L544.1,214.1 L544.4,211.8 L544.5,211.1 L544.7,208.2 L545.0,211.0 L545.3,213.9 L545.6,212.2 L545.9,210.4 L546.2,209.1 L546.2,208.9 L546.5,208.9 L546.8,207.6 L547.1,206.3 L547.4,210.2 L547.7,214.1 L548.0,213.7 L548.3,213.4 L548.6,212.7 L548.8,212.4 L548.9,211.7 L549.2,212.2 L549.5,212.8 L549.8,212.1 L550.1,211.4 L550.4,210.8 L550.7,210.1 L551.0,213.6 L551.2,216.6 L551.3,217.2 L551.6,214.6 L551.9,212.0 L552.2,212.1 L552.5,212.2 L552.8,211.2 L553.1,210.2 L553.4,211.7 L553.7,213.2 L553.8,212.7 L554.0,211.2 L554.3,209.5 L554.6,207.2 L554.9,205.0 L555.2,207.0 L555.5,209.0 L555.8,208.2 L556.1,207.4 L556.2,207.9 L556.4,208.5 L556.7,209.6 L557.0,209.3 L557.3,209.0 L557.6,212.3 L557.9,215.7 L558.2,214.1 L558.5,212.6 L558.8,213.4 L558.8,213.7 L559.1,215.9 L559.4,216.9 L559.7,217.8 L560.0,219.5 L560.3,221.2 L560.5,220.2 L560.6,221.9 L560.9,227.1 L561.2,240.2 L561.5,253.0 L561.8,264.0 L562.1,275.3 L562.4,285.8 L562.7,280.1 L563.0,274.6 L563.3,268.5 L563.5,266.2 L563.6,265.6 L563.9,263.9 L564.2,258.0 L564.5,252.1 L564.8,256.6 L565.1,261.3 L565.4,257.5 L565.7,253.6 L565.8,253.1 L566.0,252.1 L566.3,250.9 L566.6,249.8 L566.9,248.8 L567.2,249.2 L567.5,249.6 L567.8,249.5 L568.1,249.5 L568.2,249.3 L568.4,248.8 L568.7,247.8 L569.0,247.5 L569.3,247.2 L569.6,246.6 L569.9,245.9 L570.2,245.1 L570.5,244.3 L570.8,242.4 L570.8,242.6 L571.1,243.8 L571.4,248.3 L571.7,252.8 L572.0,254.0 L572.3,255.3 L572.5,257.6 L572.6,258.3 L572.9,260.5 L573.2,260.3 L573.5,260.1 L573.8,262.6 L574.1,265.2 L574.4,265.2 L574.7,265.2 L575.0,268.6 L575.3,270.2 L575.6,269.8 L575.9,269.3 L576.2,268.5 L576.5,267.6 L576.8,267.3 L577.0,267.2 L577.1,266.9 L577.4,266.4 L577.7,266.0 L578.0,266.0 L578.3,265.9 L578.6,263.8 L578.9,261.7 L579.2,261.4 L579.5,260.6 L579.8,261.8 L580.1,262.9 L580.4,264.7 L580.7,266.2 L581.0,265.4 L581.3,264.7 L581.6,264.9 L581.9,265.1 L582.0,266.2 L582.2,268.6 L582.5,272.1 L582.8,270.7 L583.1,269.2 L583.4,273.0 L583.7,276.7 L584.0,277.2 L584.3,279.2 L584.6,280.5 L584.9,281.8 L585.2,283.5 L585.5,285.3 L585.8,290.2 L585.8,291.3 L586.1,298.0 L586.4,300.7 L586.7,303.5 L587.0,304.4 L587.3,305.5 L587.5,308.3 L587.6,309.9 L587.9,314.8 L588.2,319.5 L588.5,323.8 L588.7,326.2 L588.8,325.4 L589.1,322.7 L589.4,320.1 L589.7,317.4 L590.0,314.9 L590.3,312.5 L590.6,309.1 L590.8,307.4 L590.9,306.4 L591.2,306.8 L591.5,307.3 L591.8,303.6 L592.1,300.0 L592.4,299.5 L592.7,299.1 L593.0,299.2 L593.2,299.3 L593.3,299.3 L593.6,298.1 L593.9,296.9 L594.2,294.1 L594.5,291.3 L594.8,291.5 L595.1,291.6 L595.4,290.4 L595.7,289.2 L595.8,288.8 L596.0,285.9 L596.3,282.4 L596.6,283.4 L596.9,284.0 L597.2,281.3 L597.5,279.0 L597.8,281.1 L598.1,283.7 L598.4,284.1 L598.7,284.1 L599.0,286.9 L599.3,289.7 L599.6,289.0 L599.9,288.3 L600.0,289.4 L600.2,290.3 L600.5,291.6 L600.8,291.5 L601.1,291.5 L601.4,288.2 L601.7,284.9 L602.0,287.5 L602.3,289.3 L602.6,288.5 L602.9,287.8 L603.2,287.3 L603.5,286.9 L603.8,286.9 L604.1,286.9 L604.4,283.5 L604.5,282.4 L604.7,280.3 L605.0,278.1 L605.3,275.9 L605.6,275.3 L605.9,274.7 L606.2,273.1 L606.5,271.4 L606.8,272.3 L607.0,273.0 L607.1,273.2 L607.4,273.7 L607.7,274.2 L608.0,272.8 L608.3,271.3 L608.6,269.3 L608.9,267.3 L609.2,265.8 L609.5,264.2 L609.8,262.4 L610.1,260.6 L610.4,259.9 L610.7,259.3 L611.0,256.2 L611.3,253.0 L611.6,256.5 L611.9,259.9 L612.2,261.0 L612.5,262.1 L612.8,265.9 L613.1,269.6 L613.4,270.0 L613.7,270.4 L614.0,273.4 L614.3,276.2 L614.6,277.6 L614.9,279.0 L615.2,278.9 L615.5,278.8 L615.8,279.2 L616.1,279.6 L616.4,281.9 L616.5,282.6 L616.7,283.1 L617.0,282.1 L617.3,281.1 L617.6,280.6 L617.9,280.2 L618.2,281.3 L618.2,281.4 L618.5,283.4 L618.8,283.8 L619.1,284.2 L619.4,282.8 L619.7,281.4 L620.0,284.4 L620.3,287.4 L620.6,286.4 L620.8,285.9 L620.9,285.4 L621.2,286.4 L621.5,287.4 L621.8,289.2 L622.1,290.9 L622.4,292.5 L622.7,294.0 L623.0,293.7 L623.2,293.4 L623.3,293.1 L623.6,294.6 L623.9,296.2 L624.2,295.5 L624.5,294.8 L624.8,292.8 L625.1,290.8 L625.4,291.2 L625.7,291.7 L625.8,291.6 L626.0,290.9 L626.3,290.1 L626.6,289.8 L626.9,289.5 L627.2,289.1 L627.5,288.7 L627.8,288.3 L628.1,287.8 L628.2,286.0 L628.4,284.3 L628.7,281.0 L629.0,282.5 L629.3,284.0 L629.6,284.7 L629.9,285.4 L630.2,283.8 L630.5,282.3 L630.8,281.4 L631.1,280.4 L631.4,280.0 L631.7,279.7 L632.0,282.7 L632.3,285.6 L632.6,285.8 L632.9,286.0 L633.2,287.0 L633.2,287.1 L633.5,288.1 L633.8,289.2 L634.1,290.4 L634.4,291.6 L634.7,292.8 L635.0,293.4 L635.3,293.9 L635.6,294.6 L635.8,295.0 L635.9,295.4 L636.2,293.6 L636.5,291.8 L636.8,294.1 L637.1,296.4 L637.4,298.7 L637.7,301.0 L638.0,301.0 L638.2,301.0 L638.3,300.9 L638.6,301.2 L638.9,301.6 L639.2,302.9 L639.5,304.3 L639.8,304.3 L640.1,304.3 L640.4,305.2 L640.7,306.0 L640.8,306.3 L641.0,307.3 L641.3,308.6 L641.6,307.9 L641.9,307.1 L642.2,309.0 L642.5,310.8 L642.8,311.8 L643.1,312.9 L643.2,312.5 L643.4,311.6 L643.7,309.9 L644.0,310.5 L644.3,311.1 L644.6,310.9 L644.9,310.7 L645.2,310.0 L645.5,309.4 L645.8,306.9 L645.8,306.7 L646.1,305.4 L646.4,308.5 L646.7,311.5 L647.0,311.5 L647.3,311.5 L647.6,315.1 L647.9,318.6 L648.2,315.3 L648.2,314.7 L648.5,312.3 L648.8,315.7 L649.1,319.0 L649.4,321.4 L649.7,323.9 L650.0,325.7 L650.3,327.5 L650.4,328.1 L650.6,326.8 L650.9,324.6 L651.2,323.0 L651.5,321.8 L651.8,321.9 L652.1,322.0 L652.4,319.0 L652.7,316.1 L652.8,315.6 L653.0,314.1 L653.3,312.2 L653.6,314.3 L653.9,316.4 L654.2,313.6 L654.5,310.9 L654.8,312.0 L655.1,313.2 L655.2,311.6 L655.4,310.1 L655.7,307.3 L656.0,309.1 L656.3,310.9 L656.6,312.1 L656.9,313.3 L657.2,310.8 L657.5,308.4 L657.8,309.3 L657.8,309.5 L658.1,310.7 L658.4,310.6 L658.7,310.5 L659.0,310.1 L659.3,309.7 L659.6,309.3 L659.9,309.0 L660.2,307.0 L660.2,306.7 L660.5,304.8 L660.8,305.7 L661.1,306.6 L661.4,304.9 L661.7,303.2 L662.0,302.1 L662.3,300.9 L662.6,301.8 L662.8,302.2 L662.9,302.8 L663.2,301.6 L663.5,300.4 L663.8,301.2 L664.1,302.0 L664.4,303.2 L664.7,304.4 L665.0,304.1 L665.2,303.9 L665.3,303.7 L665.6,301.8 L665.9,299.9 L666.2,298.0 L666.5,296.0 L666.8,296.4 L667.1,296.7 L667.4,292.2 L667.7,287.7 L667.8,287.9 L668.0,289.1 L668.3,290.5 L668.6,291.4 L668.9,292.3 L669.2,291.0 L669.5,289.8 L669.8,289.5 L670.1,289.2 L670.2,287.4 L670.4,285.8 L670.7,282.7 L671.0,282.4 L671.3,282.1 L671.6,283.5 L671.9,285.0 L672.2,284.6 L672.5,284.1 L672.8,283.5 L672.8,283.4 L673.1,282.7 L673.4,283.3 L673.7,283.8 L674.0,285.3 L674.3,286.7 L674.6,283.4 L674.9,280.0 L675.2,279.4 L675.2,279.3 L675.5,278.6 L675.8,281.6 L676.1,284.6 L676.4,279.3 L676.7,274.0 L677.0,274.4 L677.3,274.8 L677.6,275.9 L677.8,276.5 L677.9,276.6 L678.2,277.5 L678.5,278.4 L678.8,274.6 L679.1,270.8 L679.4,270.3 L679.7,269.8 L680.0,266.4 L680.3,264.6 L680.5,264.5 L680.6,265.1 L680.9,266.6 L681.2,270.9 L681.5,276.8 L681.8,279.9 L682.0,282.0 L682.1,282.1 L682.4,282.1 L682.7,282.2 L683.0,281.1 L683.0,460.5 Z"/><clipPath id="ac"><use href="#ar"/></clipPath></defs>
<use href="#ar" fill="url(#gr)"/>
<path d="M11.0,96.5 V460.5 M43.1,96.5 V460.5 M75.2,96.5 V460.5 M107.4,96.5 V460.5 M139.5,96.5 V460.5 M171.6,96.5 V460.5 M203.7,96.5 V460.5 M235.8,96.5 V460.5 M268.0,96.5 V460.5 M300.1,96.5 V460.5 M332.2,96.5 V460.5 M364.3,96.5 V460.5 M396.4,96.5 V460.5 M428.6,96.5 V460.5 M460.7,96.5 V460.5 M492.8,96.5 V460.5 M524.9,96.5 V460.5 M557.0,96.5 V460.5 M589.2,96.5 V460.5 M621.3,96.5 V460.5 M653.4,96.5 V460.5 M685.5,96.5 V460.5 M10,154.5 H696.5 M10,210.5 H696.5 M10,266.5 H696.5 M10,322.5 H696.5 M10,378.5 H696.5 M10,434.5 H696.5" clip-path="url(#ac)" stroke="#7db85a" stroke-opacity="0.5" stroke-width="1" stroke-dasharray="1,1.5" fill="none" shape-rendering="crispEdges"/>
<g fill="none" stroke="#f9dc7a" stroke-width="2.7" stroke-linejoin="miter" stroke-miterlimit="3" stroke-linecap="round"><polyline id="pl" points="10.1,413.4 10.4,414.0 10.7,414.6 11.0,414.8 11.3,415.0 11.6,417.0 11.9,419.1 12.2,419.8 12.5,420.5 12.8,420.7 13.0,420.9 13.1,421.0 13.4,420.6 13.7,420.2 14.0,422.4 14.3,424.7 14.6,424.1 14.9,423.5 15.2,425.2 15.5,427.0 15.8,428.7 16.0,429.6 16.1,429.2 16.4,427.9 16.7,426.8 17.0,425.4 17.3,423.9 17.6,421.9 17.9,419.9 18.0,419.7 18.2,419.1 18.5,418.3 18.8,415.9 19.1,413.4 19.4,412.1 19.7,410.7 20.0,409.8 20.3,409.5 20.6,407.8 20.9,406.0 21.2,405.1 21.5,404.1 21.8,402.8 22.0,401.9 22.1,401.6 22.4,401.5 22.7,401.4 23.0,400.6 23.3,399.9 23.6,397.5 23.9,395.2 24.0,395.3 24.2,395.9 24.5,396.8 24.8,397.2 25.1,397.6 25.4,396.2 25.7,394.7 26.0,395.9 26.3,397.0 26.5,397.3 26.6,396.9 26.9,395.8 27.2,393.1 27.5,390.4 27.8,389.0 28.1,387.6 28.4,385.1 28.7,382.9 29.0,381.2 29.2,380.2 29.3,380.5 29.6,382.4 29.9,385.0 30.2,385.2 30.5,385.1 30.8,388.4 31.1,391.8 31.4,390.9 31.7,390.0 31.9,391.9 32.0,392.8 32.3,395.6 32.6,396.0 32.9,396.5 33.2,399.1 33.5,401.7 33.8,402.4 34.1,403.1 34.4,404.5 34.5,404.8 34.7,404.8 35.0,404.0 35.3,403.0 35.6,400.7 35.9,398.4 36.2,399.0 36.5,399.7 36.8,396.8 37.1,394.0 37.2,394.2 37.4,394.5 37.7,394.8 38.0,393.2 38.3,391.5 38.6,389.6 38.9,388.0 39.2,387.4 39.3,387.1 39.5,388.2 39.8,389.7 40.1,391.2 40.4,392.5 40.7,393.7 41.0,394.3 41.3,395.0 41.6,397.4 41.9,399.9 42.0,400.0 42.2,400.1 42.5,400.2 42.8,402.8 43.1,405.4 43.4,404.9 43.7,404.4 44.0,406.3 44.3,408.2 44.6,410.5 44.9,412.9 45.2,414.1 45.5,414.4 45.8,413.5 46.1,412.5 46.4,414.0 46.7,415.5 47.0,415.3 47.3,415.1 47.6,415.3 47.8,415.4 47.9,415.1 48.2,414.2 48.5,413.2 48.8,413.0 49.1,412.7 49.4,412.3 49.7,411.8 50.0,412.0 50.3,412.1 50.6,409.8 50.9,407.4 51.2,407.0 51.5,406.5 51.8,405.6 52.1,405.1 52.4,406.1 52.7,407.1 53.0,405.2 53.3,403.3 53.6,403.9 53.9,404.6 54.2,403.9 54.5,403.2 54.8,403.3 55.1,403.5 55.4,404.8 55.7,406.2 56.0,404.0 56.3,401.9 56.6,401.7 56.9,401.5 57.1,400.2 57.2,399.4 57.5,397.0 57.8,398.8 58.1,400.5 58.4,399.6 58.7,398.7 59.0,398.7 59.3,398.8 59.6,396.3 59.9,393.9 60.2,394.1 60.5,394.4 60.8,394.6 61.1,394.8 61.4,394.1 61.7,393.4 62.0,392.2 62.3,391.1 62.6,390.0 62.9,388.9 63.2,387.7 63.5,386.5 63.8,386.2 64.1,385.9 64.4,384.5 64.7,383.1 65.0,382.4 65.1,382.1 65.3,383.1 65.6,385.3 65.9,388.1 66.2,388.4 66.5,388.4 66.8,388.9 67.1,389.4 67.4,390.5 67.7,391.5 67.7,391.5 68.0,390.9 68.3,390.2 68.6,392.3 68.9,394.4 69.2,394.0 69.5,393.7 69.8,396.1 70.1,398.4 70.4,399.3 70.7,400.1 71.0,399.8 71.3,399.5 71.6,400.9 71.7,401.3 71.9,401.7 72.2,400.5 72.5,399.3 72.8,400.3 73.1,401.2 73.4,399.4 73.7,397.5 74.0,398.4 74.3,399.2 74.6,399.7 74.9,400.1 75.2,400.7 75.5,401.3 75.8,401.3 76.1,401.3 76.4,401.2 76.7,401.2 77.0,399.8 77.0,399.8 77.3,398.0 77.6,398.0 77.9,397.9 78.2,398.5 78.5,399.0 78.8,396.1 79.1,393.2 79.4,393.0 79.7,392.8 80.0,393.8 80.3,394.8 80.6,394.4 80.9,394.1 81.0,394.0 81.2,393.8 81.5,393.6 81.8,393.2 82.1,392.8 82.4,393.6 82.7,394.4 83.0,392.7 83.3,390.9 83.6,389.5 83.9,388.1 84.2,387.8 84.5,387.5 84.8,387.6 85.0,387.7 85.1,387.9 85.4,388.8 85.7,389.8 86.0,389.8 86.3,389.8 86.6,391.6 86.9,393.4 87.2,393.0 87.5,392.6 87.8,392.0 88.1,391.4 88.4,391.5 88.7,391.6 89.0,390.9 89.0,390.9 89.3,390.0 89.6,391.8 89.9,393.7 90.2,393.2 90.5,392.7 90.8,392.6 91.1,392.4 91.4,391.3 91.7,390.2 92.0,391.8 92.3,393.4 92.6,392.3 92.9,391.1 93.0,391.0 93.2,390.3 93.5,389.3 93.8,389.1 94.1,388.8 94.4,387.5 94.7,386.2 95.0,386.6 95.3,387.1 95.6,387.8 95.9,388.4 96.2,386.0 96.5,383.5 96.8,384.6 97.0,385.3 97.1,385.6 97.4,385.5 97.7,385.4 98.0,384.6 98.3,383.9 98.6,383.6 98.9,383.4 99.2,381.9 99.5,380.5 99.8,380.3 100.1,380.1 100.4,378.5 100.7,376.8 101.0,377.5 101.0,377.5 101.3,378.6 101.6,377.7 101.9,376.9 102.2,375.4 102.5,373.9 102.8,375.4 103.1,376.9 103.4,375.9 103.7,375.0 104.0,373.5 104.3,372.0 104.6,372.5 104.9,373.0 105.0,372.8 105.2,373.0 105.5,373.2 105.8,373.0 106.1,372.7 106.4,374.5 106.7,376.2 107.0,375.5 107.3,374.8 107.6,377.8 107.9,378.9 108.2,376.1 108.5,373.3 108.8,372.1 109.1,370.9 109.4,370.3 109.7,369.7 110.0,367.2 110.3,364.7 110.6,362.8 110.9,360.8 111.2,361.5 111.5,362.1 111.8,362.5 112.1,363.0 112.4,360.4 112.7,357.7 112.9,358.0 113.0,358.5 113.3,360.0 113.6,359.9 113.9,359.8 114.2,362.1 114.5,364.4 114.8,362.4 115.1,360.5 115.4,362.9 115.7,365.3 116.0,365.9 116.3,366.6 116.6,365.1 116.9,363.6 116.9,363.6 117.2,361.6 117.5,359.5 117.8,360.1 118.1,360.6 118.4,359.4 118.7,358.1 119.0,358.0 119.3,358.0 119.6,357.3 119.9,356.6 120.2,355.1 120.5,353.6 120.8,352.7 120.9,352.4 121.1,351.8 121.4,350.3 121.7,348.7 122.0,348.0 122.3,347.3 122.6,346.3 122.9,345.3 123.2,344.0 123.5,342.7 123.8,342.2 124.1,341.8 124.4,340.6 124.7,339.5 124.9,338.7 125.0,338.2 125.3,336.6 125.6,333.3 125.9,329.9 126.2,329.0 126.5,328.2 126.8,326.3 127.0,325.0 127.1,324.3 127.4,323.3 127.7,322.2 128.0,321.0 128.3,319.8 128.6,318.2 128.9,316.9 129.2,316.4 129.5,315.2 129.8,317.7 130.1,320.8 130.4,321.9 130.7,322.4 131.0,325.6 131.3,328.7 131.6,329.8 131.9,330.9 132.2,331.7 132.5,332.6 132.8,333.8 133.1,335.0 133.4,337.1 133.7,339.2 134.0,340.2 134.3,341.1 134.6,343.4 134.9,345.6 135.2,346.4 135.5,347.3 135.8,348.1 136.1,349.0 136.2,350.1 136.4,350.7 136.7,351.9 137.0,350.7 137.3,349.5 137.6,350.9 137.9,352.2 138.2,352.8 138.5,353.4 138.8,353.8 138.8,353.6 139.1,352.4 139.4,350.6 139.7,348.8 140.0,347.1 140.3,345.5 140.6,343.3 140.9,341.2 141.2,340.5 141.5,339.9 141.8,338.3 142.1,336.6 142.4,335.6 142.7,334.5 143.0,333.7 143.3,335.0 143.6,335.5 143.9,335.6 144.2,338.2 144.5,340.9 144.8,341.1 145.1,341.3 145.4,340.9 145.7,340.6 146.0,342.3 146.2,343.8 146.3,344.0 146.6,342.6 146.9,341.1 147.2,343.4 147.5,345.8 147.8,344.8 148.1,343.8 148.4,345.2 148.7,346.7 149.0,348.1 149.3,349.5 149.5,350.3 149.6,350.9 149.9,352.4 150.2,354.1 150.5,355.8 150.8,354.7 151.1,353.6 151.4,354.5 151.7,355.6 152.0,357.6 152.3,359.2 152.5,360.0 152.6,359.6 152.9,358.6 153.2,356.7 153.5,354.3 153.8,353.7 154.1,353.1 154.4,352.0 154.7,350.9 155.0,350.4 155.3,349.9 155.6,348.1 155.9,346.2 156.2,344.7 156.2,344.5 156.5,344.5 156.8,344.6 157.1,344.6 157.4,344.5 157.7,344.5 158.0,346.0 158.3,347.5 158.6,347.8 158.9,348.1 159.2,349.1 159.5,350.1 159.8,350.0 160.0,350.0 160.1,349.5 160.4,348.2 160.7,347.0 161.0,346.5 161.3,346.0 161.6,343.6 161.9,341.1 162.2,340.1 162.5,339.1 162.8,339.2 163.1,339.3 163.4,340.4 163.7,341.5 164.0,342.9 164.3,344.3 164.6,346.4 164.9,348.5 165.0,348.4 165.2,347.5 165.5,346.1 165.8,345.2 166.1,344.3 166.4,342.5 166.7,340.6 167.0,341.2 167.3,341.7 167.5,341.2 167.6,341.6 167.9,342.8 168.2,344.6 168.5,346.4 168.8,347.7 169.1,348.9 169.4,350.1 169.7,351.3 170.0,352.8 170.3,351.9 170.6,350.7 170.9,349.3 171.2,347.2 171.5,345.2 171.8,344.9 172.1,344.5 172.4,341.7 172.7,338.8 173.0,338.4 173.3,338.1 173.6,335.8 173.8,334.6 173.9,334.0 174.2,335.6 174.5,337.1 174.8,335.9 175.1,334.6 175.4,335.2 175.7,335.9 176.0,335.1 176.3,334.4 176.6,333.1 176.9,331.7 177.2,333.1 177.5,334.4 177.8,332.7 178.1,331.0 178.4,331.1 178.7,331.2 178.8,331.4 179.0,332.2 179.3,333.2 179.6,331.2 179.9,329.2 180.2,328.8 180.5,328.4 180.8,327.3 181.1,326.2 181.4,324.8 181.7,323.5 182.0,325.3 182.3,327.2 182.5,325.3 182.6,324.1 182.9,320.3 183.2,321.2 183.5,322.2 183.8,320.0 184.1,317.7 184.4,316.1 184.7,314.5 185.0,313.3 185.3,312.0 185.5,311.2 185.6,311.5 185.9,312.6 186.2,314.0 186.5,315.5 186.8,315.4 187.1,315.2 187.4,316.7 187.7,318.1 188.0,320.2 188.3,322.2 188.6,322.2 188.8,322.2 188.9,321.4 189.2,320.5 189.5,319.6 189.8,320.4 190.1,321.2 190.4,321.3 190.7,321.5 191.0,319.7 191.3,317.9 191.6,320.4 191.9,323.0 192.2,320.1 192.5,317.1 192.8,316.9 193.1,316.6 193.4,315.7 193.7,314.8 194.0,314.4 194.3,314.1 194.6,311.5 194.9,308.8 195.0,309.2 195.2,310.3 195.5,312.1 195.8,311.6 196.1,311.1 196.4,311.6 196.7,312.0 197.0,313.5 197.3,315.0 197.5,315.0 197.6,314.6 197.9,313.5 198.2,310.6 198.5,307.7 198.8,308.3 199.1,308.9 199.4,307.7 199.7,306.5 200.0,304.9 200.3,303.7 200.5,303.8 200.6,304.5 200.9,307.5 201.2,308.4 201.5,308.6 201.8,311.2 202.1,313.7 202.4,314.3 202.7,314.9 203.0,315.4 203.3,315.8 203.6,315.4 203.8,315.3 203.9,314.7 204.2,317.2 204.5,319.7 204.8,320.5 205.1,321.2 205.4,321.5 205.7,321.8 206.0,320.4 206.3,319.0 206.6,322.1 206.9,325.1 207.2,323.5 207.5,321.8 207.8,321.9 208.1,321.9 208.4,324.8 208.7,327.7 209.0,327.1 209.3,326.5 209.6,325.6 209.9,324.7 210.2,326.0 210.5,327.2 210.8,326.2 211.1,325.2 211.4,326.8 211.7,328.4 212.0,327.5 212.3,326.6 212.6,327.7 212.9,328.8 213.0,329.0 213.2,328.8 213.5,328.3 213.8,327.5 214.1,326.6 214.4,327.2 214.7,327.8 215.0,326.6 215.3,325.4 215.6,324.1 215.9,322.7 216.2,323.0 216.2,323.1 216.5,323.6 216.8,321.8 217.1,320.0 217.4,318.0 217.7,316.0 218.0,316.2 218.3,316.4 218.6,315.2 218.9,314.1 219.2,314.9 219.5,315.7 219.8,314.9 220.0,314.3 220.1,314.0 220.4,313.6 220.7,313.2 221.0,313.4 221.3,313.5 221.6,312.2 221.9,310.9 222.2,311.8 222.5,312.8 222.8,311.9 223.1,311.0 223.4,310.7 223.7,310.5 224.0,309.2 224.3,307.8 224.6,307.0 224.9,306.2 225.0,306.4 225.2,306.8 225.5,307.3 225.8,305.2 226.1,303.1 226.4,304.8 226.7,306.6 227.0,306.6 227.3,306.6 227.6,305.6 227.9,304.5 228.2,304.8 228.5,305.2 228.8,305.5 229.1,305.7 229.4,303.0 229.7,300.3 230.0,301.4 230.3,302.2 230.6,302.2 230.9,302.1 231.2,300.3 231.5,298.4 231.8,297.1 232.1,295.8 232.4,295.2 232.7,294.6 233.0,294.6 233.3,294.6 233.6,294.0 233.8,293.6 233.9,293.2 234.2,292.8 234.5,292.5 234.8,291.9 235.1,291.2 235.4,288.6 235.7,285.9 236.0,286.3 236.3,286.6 236.6,286.8 236.9,286.9 237.2,283.3 237.5,279.6 237.8,280.3 238.1,281.1 238.4,280.0 238.7,278.8 239.0,275.9 239.3,272.9 239.6,273.4 239.9,273.8 240.2,273.3 240.5,272.5 240.8,271.5 240.8,271.8 241.1,273.4 241.4,274.1 241.7,274.3 242.0,275.3 242.3,276.3 242.6,279.3 242.9,282.1 243.2,281.6 243.5,281.8 243.8,282.5 243.8,282.3 244.1,281.1 244.4,281.8 244.7,283.4 245.0,282.1 245.3,280.8 245.6,278.8 245.9,276.7 246.2,275.7 246.5,274.7 246.8,276.3 247.0,277.3 247.1,277.8 247.4,273.6 247.7,269.4 248.0,267.4 248.3,265.4 248.6,266.2 248.9,266.7 249.2,265.3 249.5,264.0 249.5,264.0 249.8,265.5 250.1,267.2 250.4,267.1 250.7,266.6 251.0,268.1 251.3,269.6 251.6,271.2 251.9,272.7 252.2,274.3 252.5,275.4 252.5,275.4 252.8,274.9 253.1,274.0 253.4,274.9 253.7,275.7 254.0,272.5 254.3,269.3 254.6,272.0 254.9,274.8 255.2,272.2 255.5,269.5 255.8,270.0 256.1,270.4 256.2,269.3 256.4,267.8 256.7,264.8 257.0,264.1 257.3,263.4 257.6,260.6 257.9,258.6 258.2,258.4 258.2,258.3 258.5,259.4 258.8,260.4 259.1,261.5 259.4,263.6 259.7,265.6 260.0,265.4 260.3,265.1 260.6,267.2 260.9,269.3 261.2,270.9 261.2,271.2 261.5,271.2 261.8,272.5 262.1,273.8 262.4,270.9 262.7,268.0 263.0,265.8 263.3,263.5 263.6,264.8 263.9,266.2 264.2,267.4 264.5,268.6 264.8,268.7 265.0,268.7 265.1,268.5 265.4,265.0 265.7,261.4 266.0,263.8 266.3,266.3 266.6,265.7 266.9,265.1 267.2,263.8 267.5,262.3 267.8,261.5 268.0,260.8 268.1,261.4 268.4,262.8 268.7,263.9 269.0,264.8 269.3,265.4 269.6,265.5 269.9,265.6 270.2,266.7 270.5,267.8 270.8,266.6 271.1,265.4 271.2,266.7 271.4,267.9 271.7,270.3 272.0,271.4 272.3,272.4 272.6,272.7 272.9,273.0 273.2,272.9 273.5,272.9 273.8,275.2 274.1,277.5 274.4,276.8 274.7,276.2 275.0,277.0 275.3,278.4 275.6,280.2 275.9,282.0 276.2,283.7 276.5,285.3 276.8,285.2 277.1,285.8 277.4,287.8 277.5,288.4 277.7,287.7 278.0,287.5 278.3,288.0 278.6,285.5 278.9,282.8 279.2,281.7 279.5,280.6 279.8,279.8 280.1,279.0 280.4,277.8 280.5,277.4 280.7,276.9 281.0,279.1 281.3,281.3 281.6,278.2 281.9,275.1 282.2,274.4 282.5,273.7 282.8,275.8 283.1,278.0 283.4,273.1 283.7,268.1 283.8,267.9 284.0,266.8 284.3,265.3 284.6,265.6 284.9,265.9 285.2,267.5 285.5,269.0 285.8,264.8 286.1,260.5 286.2,261.7 286.4,263.0 286.7,265.8 287.0,263.0 287.3,260.2 287.6,261.0 287.9,261.9 288.2,257.7 288.5,253.6 288.8,256.9 289.1,260.3 289.4,259.5 289.5,259.3 289.7,259.5 290.0,259.4 290.3,259.3 290.6,262.5 290.9,265.6 291.2,262.7 291.5,259.8 291.8,261.4 292.1,262.9 292.4,263.6 292.5,263.9 292.7,264.0 293.0,262.6 293.3,261.3 293.6,260.7 293.9,260.1 294.2,257.8 294.5,255.5 294.8,257.2 295.1,258.9 295.4,258.9 295.7,258.9 296.0,256.9 296.2,255.3 296.3,254.9 296.6,256.4 296.9,257.8 297.2,256.0 297.5,254.1 297.8,256.1 298.1,258.0 298.4,256.0 298.7,254.0 299.0,253.7 299.3,253.4 299.5,251.9 299.6,251.0 299.9,248.1 300.2,247.3 300.5,246.6 300.8,244.9 301.1,243.2 301.4,241.8 301.7,240.3 302.0,239.5 302.3,238.6 302.5,240.1 302.6,241.0 302.9,243.7 303.2,240.4 303.5,237.1 303.8,237.1 304.1,237.1 304.4,235.8 304.7,234.5 305.0,233.9 305.3,233.3 305.6,234.5 305.9,235.8 306.2,235.5 306.5,235.2 306.8,232.8 307.1,230.3 307.4,229.5 307.5,229.2 307.7,228.2 308.0,226.8 308.3,225.4 308.6,224.3 308.9,223.1 309.2,220.8 309.5,218.6 309.8,219.6 310.1,219.9 310.4,219.0 310.5,218.5 310.7,221.0 311.0,222.1 311.3,221.7 311.6,225.7 311.9,229.8 312.2,226.1 312.5,222.5 312.8,228.2 313.0,231.9 313.1,233.2 313.4,233.3 313.7,233.4 314.0,234.3 314.3,235.3 314.6,233.9 314.9,232.6 315.2,233.4 315.5,234.2 315.8,233.7 316.1,233.2 316.2,231.4 316.4,229.4 316.7,225.3 317.0,228.2 317.3,231.1 317.6,229.2 317.9,227.4 318.2,229.0 318.5,230.6 318.8,231.6 319.1,232.7 319.4,228.4 319.5,227.0 319.7,224.6 320.0,227.6 320.3,230.7 320.6,231.0 320.9,231.3 321.2,228.9 321.5,226.5 321.8,228.6 322.1,230.7 322.4,227.1 322.5,225.8 322.7,223.0 323.0,229.0 323.3,235.1 323.6,230.1 323.9,225.0 324.2,225.5 324.5,226.0 324.8,227.4 325.0,228.3 325.1,229.0 325.4,226.2 325.7,223.3 326.0,223.8 326.3,224.4 326.6,225.5 326.9,226.5 327.2,227.4 327.5,228.2 327.8,224.6 328.1,221.0 328.4,221.7 328.7,222.3 329.0,224.2 329.3,226.1 329.6,227.0 329.9,227.9 330.0,227.2 330.2,226.7 330.5,226.0 330.8,225.3 331.1,224.6 331.4,230.3 331.7,234.2 332.0,235.1 332.3,233.3 332.6,232.9 332.9,233.2 333.2,231.7 333.5,230.2 333.8,228.0 334.1,225.9 334.4,222.8 334.5,221.8 334.7,219.7 335.0,217.6 335.3,215.6 335.6,218.1 335.9,220.7 336.2,217.0 336.5,213.2 336.8,213.4 337.0,213.5 337.1,213.9 337.4,213.2 337.7,212.6 338.0,209.5 338.3,206.4 338.6,208.8 338.9,211.3 339.2,207.4 339.5,203.4 339.8,202.8 340.0,202.3 340.1,202.0 340.4,204.5 340.7,207.1 341.0,204.6 341.3,202.1 341.6,202.4 341.9,202.8 342.2,199.0 342.5,195.2 342.8,197.7 343.0,202.8 343.1,204.1 343.4,200.8 343.7,197.5 344.0,192.4 344.3,187.3 344.6,184.7 344.9,182.1 345.2,172.8 345.5,163.4 345.8,164.3 346.1,165.2 346.4,160.7 346.7,156.1 347.0,160.1 347.3,164.3 347.6,154.7 347.9,144.9 348.2,147.2 348.5,149.6 348.8,138.7 348.9,135.1 349.1,128.5 349.4,125.4 349.7,122.7 349.9,121.4 350.0,122.5 350.3,126.2 350.6,129.3 350.9,132.3 351.2,132.7 351.5,133.1 351.8,134.8 352.1,137.4 352.4,143.1 352.7,147.7 352.9,149.1 353.0,146.8 353.3,141.2 353.6,140.1 353.9,141.0 354.2,138.4 354.5,135.3 354.8,134.4 355.1,132.8 355.4,127.5 355.7,123.0 355.8,121.8 356.0,123.8 356.3,126.6 356.6,128.1 356.9,129.3 357.2,133.1 357.5,136.2 357.8,141.0 358.1,145.7 358.4,147.6 358.7,149.4 358.9,147.0 359.0,145.8 359.3,142.4 359.6,142.4 359.9,142.5 360.2,144.2 360.5,145.9 360.8,151.4 361.1,156.7 361.2,157.2 361.4,158.9 361.7,162.3 362.0,168.9 362.3,175.3 362.6,184.4 362.9,193.4 363.0,196.6 363.2,201.7 363.5,209.2 363.8,205.2 364.1,202.9 364.4,206.5 364.5,207.1 364.7,208.5 365.0,205.4 365.3,199.1 365.6,198.1 365.9,197.1 366.2,192.8 366.2,192.2 366.5,190.6 366.8,190.0 367.1,189.4 367.4,192.4 367.7,195.4 368.0,191.4 368.3,187.4 368.6,189.6 368.8,190.6 368.9,192.5 369.2,196.2 369.5,199.8 369.8,201.1 370.1,204.9 370.4,202.9 370.7,200.4 371.0,200.1 371.2,200.4 371.3,200.0 371.6,198.7 371.9,198.0 372.2,191.5 372.5,184.0 372.8,182.9 373.1,181.7 373.4,181.8 373.7,182.0 373.8,181.4 374.0,178.2 374.3,174.3 374.6,170.5 374.9,166.7 375.2,166.2 375.5,165.8 375.8,160.7 376.0,157.4 376.1,156.4 376.4,154.2 376.7,152.0 377.0,155.2 377.3,158.4 377.6,156.9 377.9,157.6 378.2,159.9 378.5,162.2 378.8,157.1 379.1,152.1 379.4,154.9 379.7,157.7 380.0,159.3 380.3,161.0 380.5,163.6 380.6,165.2 380.9,169.9 381.2,172.2 381.5,174.6 381.8,178.1 382.1,181.5 382.4,181.6 382.7,182.6 383.0,185.7 383.3,186.3 383.6,181.2 383.9,172.6 384.2,176.1 384.5,179.6 384.8,174.9 385.0,171.8 385.1,170.4 385.4,171.5 385.7,172.5 386.0,171.1 386.3,169.7 386.6,167.8 386.9,166.5 387.2,167.4 387.3,167.3 387.5,170.6 387.8,175.5 388.1,181.0 388.4,178.5 388.7,175.4 389.0,177.5 389.3,179.7 389.5,181.3 389.6,182.7 389.9,187.0 390.2,193.6 390.5,200.2 390.8,204.4 391.1,208.6 391.2,210.9 391.4,211.5 391.7,212.7 392.0,214.8 392.3,217.0 392.6,213.3 392.9,209.7 393.2,214.1 393.5,217.1 393.8,215.5 393.8,215.2 394.1,213.0 394.4,215.7 394.7,218.4 395.0,218.9 395.3,219.3 395.6,222.4 395.9,225.5 396.2,222.8 396.2,222.4 396.5,217.9 396.8,218.1 397.1,218.3 397.4,215.4 397.7,212.6 398.0,212.1 398.3,211.6 398.6,208.9 398.8,207.5 398.9,206.8 399.2,205.7 399.5,204.6 399.8,201.3 400.1,198.0 400.4,199.2 400.7,200.5 401.0,199.2 401.2,198.2 401.3,197.9 401.6,195.2 401.9,192.5 402.2,191.9 402.5,191.3 402.8,193.8 403.1,196.4 403.4,197.0 403.7,197.6 403.8,196.9 404.0,193.2 404.3,188.7 404.6,188.6 404.9,188.4 405.2,182.6 405.5,176.8 405.8,176.5 406.1,176.2 406.2,175.3 406.4,174.7 406.7,173.7 407.0,171.0 407.3,168.3 407.6,164.6 407.9,161.2 408.2,162.5 408.5,163.2 408.8,162.9 408.8,162.9 409.1,162.6 409.4,165.6 409.7,170.5 410.0,166.8 410.3,163.1 410.6,168.1 410.9,173.0 411.2,169.1 411.5,165.2 411.8,167.4 411.8,167.5 412.1,168.6 412.4,168.1 412.7,167.6 413.0,168.5 413.3,169.4 413.6,170.5 413.9,171.6 414.2,167.8 414.2,167.1 414.5,163.5 414.8,162.9 415.1,162.4 415.4,164.3 415.7,166.1 416.0,163.6 416.3,160.8 416.6,158.5 416.9,157.0 417.0,156.8 417.2,157.5 417.5,158.2 417.8,159.3 418.1,161.2 418.4,162.4 418.7,163.6 418.8,164.7 419.0,169.4 419.3,175.0 419.6,175.0 419.9,175.1 420.2,171.2 420.5,167.5 420.8,175.2 421.1,182.9 421.2,183.7 421.4,184.4 421.7,186.0 422.0,187.1 422.3,188.3 422.6,189.6 422.9,191.0 423.2,187.5 423.5,184.0 423.8,184.8 423.8,184.7 424.1,183.9 424.4,186.5 424.7,189.1 425.0,184.8 425.3,180.5 425.6,183.7 425.9,186.9 426.2,183.7 426.2,183.1 426.5,181.7 426.8,188.4 427.1,195.1 427.4,192.2 427.7,189.4 428.0,190.2 428.3,191.0 428.6,193.7 428.8,195.1 428.9,195.8 429.2,191.8 429.5,187.8 429.8,188.6 430.1,189.4 430.4,190.6 430.7,191.9 431.0,192.8 431.2,193.6 431.3,193.9 431.6,193.7 431.9,193.6 432.2,192.3 432.5,191.0 432.8,194.5 433.1,198.1 433.4,197.3 433.7,196.5 433.8,196.1 434.0,194.0 434.3,191.4 434.6,194.4 434.9,197.5 435.2,195.5 435.5,193.5 435.8,195.7 436.1,197.8 436.2,196.9 436.4,195.8 436.7,193.6 437.0,193.7 437.3,193.8 437.6,195.1 437.9,196.5 438.2,196.5 438.5,196.6 438.8,195.2 438.8,195.2 439.1,194.6 439.4,195.3 439.7,195.9 440.0,200.3 440.3,204.7 440.6,203.2 440.9,201.8 441.2,202.1 441.2,202.2 441.5,203.0 441.8,202.9 442.1,202.8 442.4,205.1 442.7,207.4 443.0,212.6 443.3,217.8 443.6,219.9 443.8,220.9 443.9,221.7 444.2,221.8 444.5,222.0 444.8,222.9 445.1,223.8 445.4,222.2 445.7,220.9 446.0,223.5 446.2,224.2 446.3,224.5 446.6,223.3 446.9,219.9 447.2,220.0 447.5,220.2 447.8,219.2 448.1,218.3 448.4,216.3 448.7,214.4 448.8,214.6 449.0,215.7 449.3,216.9 449.6,215.9 449.9,214.8 450.2,209.3 450.5,203.6 450.8,202.4 451.1,201.1 451.2,201.7 451.4,203.3 451.7,206.3 452.0,207.8 452.3,209.4 452.6,206.3 452.9,203.2 453.2,203.2 453.5,203.2 453.8,205.0 453.8,205.3 454.1,206.5 454.4,207.8 454.7,209.1 455.0,208.2 455.3,207.3 455.6,206.7 455.9,206.0 456.2,204.7 456.2,204.5 456.5,204.9 456.8,205.0 457.1,205.1 457.4,212.6 457.7,220.1 458.0,217.1 458.3,215.7 458.6,217.9 458.8,219.1 458.9,217.9 459.2,216.2 459.5,215.0 459.8,215.1 460.1,215.5 460.4,212.2 460.7,209.0 461.0,211.4 461.2,213.5 461.3,214.2 461.6,211.3 461.9,208.5 462.2,209.2 462.5,210.0 462.8,210.6 463.0,211.0 463.1,211.0 463.4,213.2 463.7,215.5 464.0,214.8 464.3,214.1 464.6,213.6 464.9,213.0 465.2,213.3 465.5,213.6 465.8,212.1 466.1,210.6 466.2,212.2 466.4,213.4 466.7,215.7 467.0,212.9 467.3,210.2 467.6,211.3 467.9,212.4 468.2,212.0 468.5,211.5 468.8,208.9 469.1,206.3 469.4,202.2 469.7,198.1 470.0,199.4 470.3,202.2 470.6,204.4 470.9,206.6 471.2,207.4 471.5,208.3 471.8,207.2 472.1,206.1 472.4,211.2 472.5,212.9 472.7,215.4 473.0,213.9 473.3,212.4 473.6,211.6 473.9,210.8 474.2,209.7 474.5,208.6 474.8,208.6 475.0,208.6 475.1,208.6 475.4,204.1 475.7,199.6 476.0,202.0 476.3,204.3 476.6,200.1 476.9,195.8 477.2,195.5 477.5,195.2 477.8,194.7 478.1,194.3 478.4,192.9 478.7,191.5 478.8,191.6 479.0,192.1 479.3,192.8 479.6,192.7 479.9,192.7 480.2,192.2 480.5,191.7 480.8,190.2 481.1,188.6 481.4,190.1 481.7,191.6 482.0,189.2 482.3,186.7 482.5,186.9 482.6,186.6 482.9,185.6 483.2,183.8 483.5,182.0 483.8,177.9 484.1,173.8 484.4,177.2 484.7,180.6 485.0,178.1 485.3,176.2 485.6,174.8 485.9,173.4 486.2,173.4 486.5,173.4 486.8,172.7 487.1,172.0 487.4,165.3 487.7,158.5 488.0,163.0 488.3,168.1 488.6,165.5 488.9,162.9 489.2,162.1 489.5,161.3 489.8,162.1 490.1,162.9 490.4,165.2 490.7,167.6 491.0,168.6 491.2,169.5 491.3,169.6 491.6,168.4 491.9,167.2 492.2,163.2 492.5,159.1 492.8,157.3 493.1,155.4 493.4,154.7 493.7,154.1 494.0,155.0 494.2,154.5 494.3,155.1 494.6,155.5 494.9,153.8 495.2,155.3 495.5,157.1 495.8,156.1 496.1,155.2 496.4,154.3 496.7,153.5 497.0,158.9 497.3,164.3 497.5,164.9 497.6,165.2 497.9,165.9 498.2,169.6 498.5,173.3 498.8,172.1 499.1,170.8 499.4,170.5 499.7,170.2 500.0,173.9 500.3,177.4 500.6,175.6 500.9,173.8 501.2,173.6 501.5,173.4 501.8,173.1 502.1,172.7 502.4,178.0 502.7,183.2 503.0,180.7 503.3,177.2 503.6,176.6 503.9,176.0 504.2,175.0 504.5,174.0 504.8,178.5 505.1,183.0 505.4,179.0 505.5,177.7 505.7,175.0 506.0,180.5 506.3,186.0 506.6,180.3 506.9,174.6 507.2,174.3 507.5,174.0 507.8,177.9 508.1,181.8 508.4,177.4 508.7,173.0 508.8,172.6 509.0,170.1 509.3,167.0 509.6,167.5 509.9,168.0 510.2,165.7 510.5,163.4 510.8,166.3 511.1,169.2 511.4,169.2 511.7,168.5 511.8,168.1 512.0,167.9 512.3,166.1 512.6,168.6 512.9,172.0 513.2,175.3 513.5,178.7 513.8,177.1 514.1,175.6 514.4,173.7 514.7,171.9 515.0,175.3 515.3,178.1 515.6,174.9 515.9,171.7 516.2,173.2 516.5,174.6 516.8,172.0 517.1,169.5 517.4,173.7 517.7,178.0 518.0,178.4 518.3,179.9 518.6,177.8 518.9,175.8 519.2,177.9 519.5,179.9 519.8,182.7 520.1,185.4 520.4,186.8 520.7,188.2 521.0,192.1 521.2,195.3 521.3,195.8 521.6,193.5 521.9,191.2 522.2,187.9 522.5,184.6 522.8,189.3 523.1,194.0 523.4,191.1 523.7,188.3 523.8,188.8 524.0,190.0 524.3,191.5 524.6,191.7 524.9,191.9 525.2,188.5 525.5,185.0 525.8,183.5 526.1,182.0 526.2,182.5 526.4,183.7 526.7,186.0 527.0,188.0 527.3,189.9 527.6,191.0 527.9,192.0 528.2,190.5 528.5,189.0 528.8,188.0 528.8,187.7 529.1,185.8 529.4,186.4 529.7,187.1 530.0,192.5 530.3,198.0 530.6,194.2 530.9,190.4 531.2,187.4 531.5,184.4 531.8,185.3 532.0,185.9 532.1,186.3 532.4,189.0 532.7,191.6 533.0,190.6 533.3,189.6 533.6,188.2 533.9,186.8 534.2,187.0 534.5,187.2 534.8,187.3 535.0,187.3 535.1,187.4 535.4,183.8 535.7,180.1 536.0,179.5 536.3,178.9 536.6,183.4 536.9,187.9 537.2,186.6 537.5,185.3 537.8,190.4 538.0,193.9 538.1,195.8 538.4,193.8 538.7,191.8 539.0,189.1 539.3,186.5 539.6,189.2 539.9,191.9 540.2,193.1 540.5,194.2 540.8,201.7 541.1,209.1 541.4,206.7 541.7,204.2 542.0,205.5 542.3,206.7 542.5,209.5 542.6,210.7 542.9,214.2 543.2,213.2 543.5,212.2 543.8,213.2 544.1,214.1 544.4,211.8 544.5,211.1 544.7,208.2 545.0,211.0 545.3,213.9 545.6,212.2 545.9,210.4 546.2,209.1 546.2,208.9 546.5,208.9 546.8,207.6 547.1,206.3 547.4,210.2 547.7,214.1 548.0,213.7 548.3,213.4 548.6,212.7 548.8,212.4 548.9,211.7 549.2,212.2 549.5,212.8 549.8,212.1 550.1,211.4 550.4,210.8 550.7,210.1 551.0,213.6 551.2,216.6 551.3,217.2 551.6,214.6 551.9,212.0 552.2,212.1 552.5,212.2 552.8,211.2 553.1,210.2 553.4,211.7 553.7,213.2 553.8,212.7 554.0,211.2 554.3,209.5 554.6,207.2 554.9,205.0 555.2,207.0 555.5,209.0 555.8,208.2 556.1,207.4 556.2,207.9 556.4,208.5 556.7,209.6 557.0,209.3 557.3,209.0 557.6,212.3 557.9,215.7 558.2,214.1 558.5,212.6 558.8,213.4 558.8,213.7 559.1,215.9 559.4,216.9 559.7,217.8 560.0,219.5 560.3,221.2 560.5,220.2 560.6,221.9 560.9,227.1 561.2,240.2 561.5,253.0 561.8,264.0 562.1,275.3 562.4,285.8 562.7,280.1 563.0,274.6 563.3,268.5 563.5,266.2 563.6,265.6 563.9,263.9 564.2,258.0 564.5,252.1 564.8,256.6 565.1,261.3 565.4,257.5 565.7,253.6 565.8,253.1 566.0,252.1 566.3,250.9 566.6,249.8 566.9,248.8 567.2,249.2 567.5,249.6 567.8,249.5 568.1,249.5 568.2,249.3 568.4,248.8 568.7,247.8 569.0,247.5 569.3,247.2 569.6,246.6 569.9,245.9 570.2,245.1 570.5,244.3 570.8,242.4 570.8,242.6 571.1,243.8 571.4,248.3 571.7,252.8 572.0,254.0 572.3,255.3 572.5,257.6 572.6,258.3 572.9,260.5 573.2,260.3 573.5,260.1 573.8,262.6 574.1,265.2 574.4,265.2 574.7,265.2 575.0,268.6 575.3,270.2 575.6,269.8 575.9,269.3 576.2,268.5 576.5,267.6 576.8,267.3 577.0,267.2 577.1,266.9 577.4,266.4 577.7,266.0 578.0,266.0 578.3,265.9 578.6,263.8 578.9,261.7 579.2,261.4 579.5,260.6 579.8,261.8 580.1,262.9 580.4,264.7 580.7,266.2 581.0,265.4 581.3,264.7 581.6,264.9 581.9,265.1 582.0,266.2 582.2,268.6 582.5,272.1 582.8,270.7 583.1,269.2 583.4,273.0 583.7,276.7 584.0,277.2 584.3,279.2 584.6,280.5 584.9,281.8 585.2,283.5 585.5,285.3 585.8,290.2 585.8,291.3 586.1,298.0 586.4,300.7 586.7,303.5 587.0,304.4 587.3,305.5 587.5,308.3 587.6,309.9 587.9,314.8 588.2,319.5 588.5,323.8 588.7,326.2 588.8,325.4 589.1,322.7 589.4,320.1 589.7,317.4 590.0,314.9 590.3,312.5 590.6,309.1 590.8,307.4 590.9,306.4 591.2,306.8 591.5,307.3 591.8,303.6 592.1,300.0 592.4,299.5 592.7,299.1 593.0,299.2 593.2,299.3 593.3,299.3 593.6,298.1 593.9,296.9 594.2,294.1 594.5,291.3 594.8,291.5 595.1,291.6 595.4,290.4 595.7,289.2 595.8,288.8 596.0,285.9 596.3,282.4 596.6,283.4 596.9,284.0 597.2,281.3 597.5,279.0 597.8,281.1 598.1,283.7 598.4,284.1 598.7,284.1 599.0,286.9 599.3,289.7 599.6,289.0 599.9,288.3 600.0,289.4 600.2,290.3 600.5,291.6 600.8,291.5 601.1,291.5 601.4,288.2 601.7,284.9 602.0,287.5 602.3,289.3 602.6,288.5 602.9,287.8 603.2,287.3 603.5,286.9 603.8,286.9 604.1,286.9 604.4,283.5 604.5,282.4 604.7,280.3 605.0,278.1 605.3,275.9 605.6,275.3 605.9,274.7 606.2,273.1 606.5,271.4 606.8,272.3 607.0,273.0 607.1,273.2 607.4,273.7 607.7,274.2 608.0,272.8 608.3,271.3 608.6,269.3 608.9,267.3 609.2,265.8 609.5,264.2 609.8,262.4 610.1,260.6 610.4,259.9 610.7,259.3 611.0,256.2 611.3,253.0 611.6,256.5 611.9,259.9 612.2,261.0 612.5,262.1 612.8,265.9 613.1,269.6 613.4,270.0 613.7,270.4 614.0,273.4 614.3,276.2 614.6,277.6 614.9,279.0 615.2,278.9 615.5,278.8 615.8,279.2 616.1,279.6 616.4,281.9 616.5,282.6 616.7,283.1 617.0,282.1 617.3,281.1 617.6,280.6 617.9,280.2 618.2,281.3 618.2,281.4 618.5,283.4 618.8,283.8 619.1,284.2 619.4,282.8 619.7,281.4 620.0,284.4 620.3,287.4 620.6,286.4 620.8,285.9 620.9,285.4 621.2,286.4 621.5,287.4 621.8,289.2 622.1,290.9 622.4,292.5 622.7,294.0 623.0,293.7 623.2,293.4 623.3,293.1 623.6,294.6 623.9,296.2 624.2,295.5 624.5,294.8 624.8,292.8 625.1,290.8 625.4,291.2 625.7,291.7 625.8,291.6 626.0,290.9 626.3,290.1 626.6,289.8 626.9,289.5 627.2,289.1 627.5,288.7 627.8,288.3 628.1,287.8 628.2,286.0 628.4,284.3 628.7,281.0 629.0,282.5 629.3,284.0 629.6,284.7 629.9,285.4 630.2,283.8 630.5,282.3 630.8,281.4 631.1,280.4 631.4,280.0 631.7,279.7 632.0,282.7 632.3,285.6 632.6,285.8 632.9,286.0 633.2,287.0 633.2,287.1 633.5,288.1 633.8,289.2 634.1,290.4 634.4,291.6 634.7,292.8 635.0,293.4 635.3,293.9 635.6,294.6 635.8,295.0 635.9,295.4 636.2,293.6 636.5,291.8 636.8,294.1 637.1,296.4 637.4,298.7 637.7,301.0 638.0,301.0 638.2,301.0 638.3,300.9 638.6,301.2 638.9,301.6 639.2,302.9 639.5,304.3 639.8,304.3 640.1,304.3 640.4,305.2 640.7,306.0 640.8,306.3 641.0,307.3 641.3,308.6 641.6,307.9 641.9,307.1 642.2,309.0 642.5,310.8 642.8,311.8 643.1,312.9 643.2,312.5 643.4,311.6 643.7,309.9 644.0,310.5 644.3,311.1 644.6,310.9 644.9,310.7 645.2,310.0 645.5,309.4 645.8,306.9 645.8,306.7 646.1,305.4 646.4,308.5 646.7,311.5 647.0,311.5 647.3,311.5 647.6,315.1 647.9,318.6 648.2,315.3 648.2,314.7 648.5,312.3 648.8,315.7 649.1,319.0 649.4,321.4 649.7,323.9 650.0,325.7 650.3,327.5 650.4,328.1 650.6,326.8 650.9,324.6 651.2,323.0 651.5,321.8 651.8,321.9 652.1,322.0 652.4,319.0 652.7,316.1 652.8,315.6 653.0,314.1 653.3,312.2 653.6,314.3 653.9,316.4 654.2,313.6 654.5,310.9 654.8,312.0 655.1,313.2 655.2,311.6 655.4,310.1 655.7,307.3 656.0,309.1 656.3,310.9 656.6,312.1 656.9,313.3 657.2,310.8 657.5,308.4 657.8,309.3 657.8,309.5 658.1,310.7 658.4,310.6 658.7,310.5 659.0,310.1 659.3,309.7 659.6,309.3 659.9,309.0 660.2,307.0 660.2,306.7 660.5,304.8 660.8,305.7 661.1,306.6 661.4,304.9 661.7,303.2 662.0,302.1 662.3,300.9 662.6,301.8 662.8,302.2 662.9,302.8 663.2,301.6 663.5,300.4 663.8,301.2 664.1,302.0 664.4,303.2 664.7,304.4 665.0,304.1 665.2,303.9 665.3,303.7 665.6,301.8 665.9,299.9 666.2,298.0 666.5,296.0 666.8,296.4 667.1,296.7 667.4,292.2 667.7,287.7 667.8,287.9 668.0,289.1 668.3,290.5 668.6,291.4 668.9,292.3 669.2,291.0 669.5,289.8 669.8,289.5 670.1,289.2 670.2,287.4 670.4,285.8 670.7,282.7 671.0,282.4 671.3,282.1 671.6,283.5 671.9,285.0 672.2,284.6 672.5,284.1 672.8,283.5 672.8,283.4 673.1,282.7 673.4,283.3 673.7,283.8 674.0,285.3 674.3,286.7 674.6,283.4 674.9,280.0 675.2,279.4 675.2,279.3 675.5,278.6 675.8,281.6 676.1,284.6 676.4,279.3 676.7,274.0 677.0,274.4 677.3,274.8 677.6,275.9 677.8,276.5 677.9,276.6 678.2,277.5 678.5,278.4 678.8,274.6 679.1,270.8 679.4,270.3 679.7,269.8 680.0,266.4 680.3,264.6 680.5,264.5 680.6,265.1 680.9,266.6 681.2,270.9 681.5,276.8 681.8,279.9 682.0,282.0 682.1,282.1 682.4,282.1 682.7,282.2 683.0,281.1" transform="translate(-0.7,0)"/><use href="#pl" transform="translate(1.4,0)"/></g>
<path d="M11.0,460.5 v2.5 M21.7,460.5 v2.5 M32.4,460.5 v2.5 M43.1,460.5 v2.5 M53.8,460.5 v2.5 M64.5,460.5 v2.5 M75.2,460.5 v2.5 M85.9,460.5 v2.5 M96.7,460.5 v2.5 M107.4,460.5 v2.5 M118.1,460.5 v2.5 M128.8,460.5 v2.5 M139.5,460.5 v2.5 M150.2,460.5 v2.5 M160.9,460.5 v2.5 M171.6,460.5 v2.5 M182.3,460.5 v2.5 M193.0,460.5 v2.5 M203.7,460.5 v2.5 M214.4,460.5 v2.5 M225.1,460.5 v2.5 M235.8,460.5 v2.5 M246.6,460.5 v2.5 M257.3,460.5 v2.5 M268.0,460.5 v2.5 M278.7,460.5 v2.5 M289.4,460.5 v2.5 M300.1,460.5 v2.5 M310.8,460.5 v2.5 M321.5,460.5 v2.5 M332.2,460.5 v2.5 M342.9,460.5 v2.5 M353.6,460.5 v2.5 M364.3,460.5 v2.5 M375.0,460.5 v2.5 M385.7,460.5 v2.5 M396.5,460.5 v2.5 M407.2,460.5 v2.5 M417.9,460.5 v2.5 M428.6,460.5 v2.5 M439.3,460.5 v2.5 M450.0,460.5 v2.5 M460.7,460.5 v2.5 M471.4,460.5 v2.5 M482.1,460.5 v2.5 M492.8,460.5 v2.5 M503.5,460.5 v2.5 M514.2,460.5 v2.5 M524.9,460.5 v2.5 M535.6,460.5 v2.5 M546.4,460.5 v2.5 M557.1,460.5 v2.5 M567.8,460.5 v2.5 M578.5,460.5 v2.5 M589.2,460.5 v2.5 M599.9,460.5 v2.5 M610.6,460.5 v2.5 M621.3,460.5 v2.5 M632.0,460.5 v2.5 M642.7,460.5 v2.5 M653.4,460.5 v2.5 M664.1,460.5 v2.5 M674.8,460.5 v2.5" stroke="#8a8f78" stroke-width="1" fill="none"/>
<path d="M11.0,471 v9.5 M139.5,471 v9.5 M268.0,471 v9.5 M396.5,471 v9.5 M525.0,471 v9.5 M653.5,471 v9.5" stroke="#6e6e6e" stroke-width="1" fill="none"/>
<text x="75.5" y="479.6" text-anchor="middle" font-family='"Liberation Serif","DejaVu Serif",serif' font-size="8.6" fill="#b99a5e" textLength="15.5" lengthAdjust="spacingAndGlyphs">2009</text>
<text x="204" y="479.6" text-anchor="middle" font-family='"Liberation Serif","DejaVu Serif",serif' font-size="8.6" fill="#b99a5e" textLength="15.5" lengthAdjust="spacingAndGlyphs">2010</text>
<text x="332.5" y="479.6" text-anchor="middle" font-family='"Liberation Serif","DejaVu Serif",serif' font-size="8.6" fill="#b99a5e" textLength="15.5" lengthAdjust="spacingAndGlyphs">2011</text>
<text x="461" y="479.6" text-anchor="middle" font-family='"Liberation Serif","DejaVu Serif",serif' font-size="8.6" fill="#b99a5e" textLength="15.5" lengthAdjust="spacingAndGlyphs">2012</text>
<text x="589.75" y="479.6" text-anchor="middle" font-family='"Liberation Serif","DejaVu Serif",serif' font-size="8.6" fill="#b99a5e" textLength="15.5" lengthAdjust="spacingAndGlyphs">2013</text>
<text x="674.75" y="479.6" text-anchor="middle" font-family='"Liberation Serif","DejaVu Serif",serif' font-size="8.6" fill="#b99a5e" textLength="15.5" lengthAdjust="spacingAndGlyphs">2014</text>
<path d="M697,152.7 l3,1.8 l-3,1.8 z" fill="#e8cf8a"/>
<text x="701.5" y="157.6" font-family='"Liberation Serif","DejaVu Serif",serif' font-size="8.8" fill="#e2cf9c" textLength="15.5" lengthAdjust="spacingAndGlyphs">1800</text>
<path d="M697,208.7 l3,1.8 l-3,1.8 z" fill="#e8cf8a"/>
<text x="701.5" y="213.6" font-family='"Liberation Serif","DejaVu Serif",serif' font-size="8.8" fill="#e2cf9c" textLength="15.5" lengthAdjust="spacingAndGlyphs">1600</text>
<path d="M697,264.7 l3,1.8 l-3,1.8 z" fill="#e8cf8a"/>
<text x="701.5" y="269.6" font-family='"Liberation Serif","DejaVu Serif",serif' font-size="8.8" fill="#e2cf9c" textLength="15.5" lengthAdjust="spacingAndGlyphs">1400</text>
<path d="M697,320.7 l3,1.8 l-3,1.8 z" fill="#e8cf8a"/>
<text x="701.5" y="325.6" font-family='"Liberation Serif","DejaVu Serif",serif' font-size="8.8" fill="#e2cf9c" textLength="15.5" lengthAdjust="spacingAndGlyphs">1200</text>
<path d="M697,376.7 l3,1.8 l-3,1.8 z" fill="#e8cf8a"/>
<text x="701.5" y="381.6" font-family='"Liberation Serif","DejaVu Serif",serif' font-size="8.8" fill="#e2cf9c" textLength="15.5" lengthAdjust="spacingAndGlyphs">1000</text>
<path d="M697,432.7 l3,1.8 l-3,1.8 z" fill="#e8cf8a"/>
<text x="702.5" y="437.6" font-family='"Liberation Serif","DejaVu Serif",serif' font-size="8.8" fill="#e2cf9c" textLength="11.5" lengthAdjust="spacingAndGlyphs">800</text>
<path d="M697,96.8 l3.2,1.6 l-3.2,1.6 z" fill="#f0dc9a"/>
<rect x="697" y="126.0" width="1.6" height="1.2" fill="#cdb57a"/>
<rect x="697" y="182.0" width="1.6" height="1.2" fill="#cdb57a"/>
<rect x="697" y="238.0" width="1.6" height="1.2" fill="#cdb57a"/>
<rect x="697" y="294.0" width="1.6" height="1.2" fill="#cdb57a"/>
<rect x="697" y="350.0" width="1.6" height="1.2" fill="#cdb57a"/>
<rect x="697" y="406.0" width="1.6" height="1.2" fill="#cdb57a"/>
<path d="M697.5,283 l4,-5 h25.5 v10 h-25.5 z" fill="#efdc8c"/>
<text x="701.8" y="286.6" font-family='"Liberation Serif","DejaVu Serif",serif' font-size="10" fill="#1c1808" textLength="24.6" lengthAdjust="spacingAndGlyphs">1341.11</text>
<rect x="582.5" y="98" width="113.5" height="47" rx="2.5" fill="#19212a" stroke="#34424c" stroke-width="1"/>
<text x="601.5" y="112.2" font-family='"Liberation Sans","DejaVu Sans",sans-serif' font-size="8.4" fill="#dcdcdc" textLength="34" lengthAdjust="spacingAndGlyphs">Last Price</text>
<text x="664" y="112.2" font-family='"Liberation Sans","DejaVu Sans",sans-serif' font-size="8.4" fill="#dcdcdc" textLength="26" lengthAdjust="spacingAndGlyphs">1341.11</text>
<text x="601.5" y="121.4" font-family='"Liberation Sans","DejaVu Sans",sans-serif' font-size="8.4" fill="#dcdcdc" textLength="58" lengthAdjust="spacingAndGlyphs">High on 09/05/11</text>
<text x="664" y="121.4" font-family='"Liberation Sans","DejaVu Sans",sans-serif' font-size="8.4" fill="#dcdcdc" textLength="26" lengthAdjust="spacingAndGlyphs">1900.20</text>
<text x="601.5" y="131" font-family='"Liberation Sans","DejaVu Sans",sans-serif' font-size="8.4" fill="#dcdcdc" textLength="25.6" lengthAdjust="spacingAndGlyphs">Average</text>
<text x="664" y="131" font-family='"Liberation Sans","DejaVu Sans",sans-serif' font-size="8.4" fill="#dcdcdc" textLength="26" lengthAdjust="spacingAndGlyphs">1365.80</text>
<text x="601.5" y="140.5" font-family='"Liberation Sans","DejaVu Sans",sans-serif' font-size="8.4" fill="#dcdcdc" textLength="57" lengthAdjust="spacingAndGlyphs">Low on 01/14/09</text>
<text x="668" y="140.5" font-family='"Liberation Sans","DejaVu Sans",sans-serif' font-size="8.4" fill="#dcdcdc" textLength="22" lengthAdjust="spacingAndGlyphs">811.70</text>
<rect x="586.8" y="105.8" width="3.4" height="3.6" fill="none" stroke="#9aa0a0" stroke-width="0.8"/>
<path d="M588.5,109.4 V137.5 H591 M588.5,118.3 H591 M588.5,128 H591" stroke="#9aa0a0" stroke-width="0.8" fill="none"/>
<rect x="592.5" y="105.3" width="6.2" height="7" fill="#f2cf58"/><rect x="594" y="106.8" width="3.2" height="4" fill="#f7e090"/>
<path d="M593.5,115 h4.5 M595.7,115 v6.5" stroke="#f2cf58" stroke-width="1.2" fill="none"/>
<path d="M592.5,128 h7" stroke="#f2cf58" stroke-width="1" fill="none"/><path d="M595.8,126.2 l1.8,1.8 l-1.8,1.8 l-1.8,-1.8 z" fill="#f2cf58"/>
<path d="M593.5,140.5 h4.5 M595.7,140.5 v-6.5" stroke="#f2cf58" stroke-width="1.2" fill="none"/>
</svg>
<div class="quote">
<span class="t" style='left:21.00px;top:7.80px;font:normal 13.8px/20px "DejaVu Sans Mono","Liberation Mono",monospace;color:#f2f2f2;transform:scaleX(0.9548)'>XAU</span>
<span class="t" style='left:74.00px;top:7.80px;font:bold 13.9px/20px "DejaVu Sans Mono","Liberation Mono",monospace;color:#3fc04a;letter-spacing:0.637px'>1341.11</span>
<span class="t" style='left:168.00px;top:7.80px;font:normal 13.8px/20px "DejaVu Sans Mono","Liberation Mono",monospace;color:#3fc04a;transform:scaleX(0.9691)'>+13.34</span>
<span class="t" style='left:393.27px;top:7.80px;font:normal 13.8px/20px "DejaVu Sans Mono","Liberation Mono",monospace;color:#a8a8a8;transform:scaleX(0.9846)'>BGN</span>
<span class="t" style='left:434.03px;top:7.80px;font:normal 13.8px/20px "DejaVu Sans Mono","Liberation Mono",monospace;color:#f2f2f2;transform:scaleX(0.9677)'>1340.97</span>
<span class="t" style='left:495.50px;top:7.80px;font:normal 13.8px/20px "DejaVu Sans Mono","Liberation Mono",monospace;color:#a8a8a8;letter-spacing:0.000px'>/</span>
<span class="t" style='left:504.53px;top:7.80px;font:normal 13.8px/20px "DejaVu Sans Mono","Liberation Mono",monospace;color:#f2f2f2;transform:scaleX(0.9677)'>1341.25</span>
<span class="t" style='left:573.50px;top:7.80px;font:normal 13.8px/20px "DejaVu Sans Mono","Liberation Mono",monospace;color:#a8a8a8;letter-spacing:0.194px'>BGN</span>
<span class="t" style='left:20.00px;top:26.60px;font:normal 13.6px/20px "DejaVu Sans Mono","Liberation Mono",monospace;color:#ee9e5c;letter-spacing:1.316px'>At</span>
<span class="t" style='left:46.00px;top:26.60px;font:normal 13.6px/20px "DejaVu Sans Mono","Liberation Mono",monospace;color:#f2f2f2;transform:scaleX(0.8909)'>7:41</span>
<span class="t" style='left:107.50px;top:26.60px;font:normal 13.6px/20px "DejaVu Sans Mono","Liberation Mono",monospace;color:#ee9e5c;transform:scaleX(0.9268)'>Op</span>
<span class="t" style='left:131.54px;top:26.60px;font:normal 13.6px/20px "DejaVu Sans Mono","Liberation Mono",monospace;color:#f2f2f2;transform:scaleX(0.9625)'>1327.75</span>
<span class="t" style='left:217.75px;top:26.60px;font:normal 13.6px/20px "DejaVu Sans Mono","Liberation Mono",monospace;color:#ee9e5c;transform:scaleX(0.8496)'>Hi</span>
<span class="t" style='left:241.78px;top:26.60px;font:normal 13.6px/20px "DejaVu Sans Mono","Liberation Mono",monospace;color:#f2f2f2;transform:scaleX(0.9669)'>1342.55</span>
<span class="t" style='left:328.08px;top:26.60px;font:normal 13.6px/20px "DejaVu Sans Mono","Liberation Mono",monospace;color:#ee9e5c;transform:scaleX(0.9220)'>Lo</span>
<span class="t" style='left:353.55px;top:26.60px;font:normal 13.6px/20px "DejaVu Sans Mono","Liberation Mono",monospace;color:#f2f2f2;transform:scaleX(0.9536)'>1326.66</span>
<span class="t" style='left:438.75px;top:26.60px;font:normal 13.6px/20px "DejaVu Sans Mono","Liberation Mono",monospace;color:#ee9e5c;transform:scaleX(0.9328)'>Close</span>
<span class="t" style='left:487.55px;top:26.60px;font:normal 13.6px/20px "DejaVu Sans Mono","Liberation Mono",monospace;color:#f2f2f2;transform:scaleX(0.9491)'>1327.77</span>
<span class="t" style='left:577.00px;top:26.60px;font:normal 13.6px/20px "DejaVu Sans Mono","Liberation Mono",monospace;color:#ee9e5c;transform:scaleX(0.9696)'>Value</span>
<span class="t" style='left:626.50px;top:26.60px;font:normal 13.6px/20px "DejaVu Sans Mono","Liberation Mono",monospace;color:#f2f2f2;transform:scaleX(0.9649)'>03/25/14</span>
</div>
<div class="actions">
<span class="t" style='left:10.00px;top:45.30px;font:normal 14.6px/20px "Liberation Sans","DejaVu Sans",sans-serif;color:#743a0c;transform:scaleX(0.9171)'>XAU BGN Curncy</span>
<span class="t bd" style='left:155.00px;top:45.30px;font:normal 14.5px/20px "Liberation Sans","DejaVu Sans",sans-serif;color:#fbe2e2;transform:scaleX(0.7452)'>95)</span>
<span class="t bd2" style='left:176.00px;top:45.30px;font:normal 15.4px/20px "Liberation Sans","DejaVu Sans",sans-serif;color:#fbe2e2;transform:scaleX(0.9198)'>Save As</span>
<span class="t bd" style='left:259.00px;top:45.30px;font:normal 14.5px/20px "Liberation Sans","DejaVu Sans",sans-serif;color:#fbe2e2;transform:scaleX(0.6707)'>96)</span>
<span class="t bd2" style='left:278.00px;top:45.30px;font:normal 15.4px/20px "Liberation Sans","DejaVu Sans",sans-serif;color:#fbe2e2;transform:scaleX(0.9995)'>Actions</span>
<span class="t bd" style='left:373.75px;top:45.30px;font:normal 14.5px/20px "Liberation Sans","DejaVu Sans",sans-serif;color:#fbe2e2;transform:scaleX(0.6831)'>97)</span>
<span class="t bd2" style='left:392.80px;top:45.30px;font:normal 15.4px/20px "Liberation Sans","DejaVu Sans",sans-serif;color:#fbe2e2;transform:scaleX(0.9526)'>Edit</span>
<span class="t bd" style='left:469.50px;top:45.30px;font:normal 14.5px/20px "Liberation Sans","DejaVu Sans",sans-serif;color:#fbe2e2;transform:scaleX(0.5713)'>98)</span>
<span class="t bd2" style='left:491.00px;top:45.30px;font:normal 15.4px/20px "Liberation Sans","DejaVu Sans",sans-serif;color:#fbe2e2;transform:scaleX(0.9660)'>Table</span>
<span class="t bd2" style='left:649.05px;top:45.30px;font:normal 15.4px/20px "Liberation Sans","DejaVu Sans",sans-serif;color:#fbe2e2;transform:scaleX(0.9472)'>Line Chart</span>
</div>
<div class="controls">
<span class="t bd" style='left:20.50px;top:62.40px;font:normal 11.4px/20px "Liberation Sans","DejaVu Sans",sans-serif;color:#2a1400;letter-spacing:0.314px'>03/21/2013</span>
<span class="t" style='left:85.50px;top:62.40px;font:normal 11.4px/20px "Liberation Sans","DejaVu Sans",sans-serif;color:#f0a040;letter-spacing:0.000px'>-</span>
<span class="t bd" style='left:104.50px;top:62.40px;font:normal 11.4px/20px "Liberation Sans","DejaVu Sans",sans-serif;color:#2a1400;letter-spacing:0.286px'>03/21/2014</span>
<span class="t bd" style='left:171.25px;top:62.40px;font:normal 11.4px/20px "Liberation Sans","DejaVu Sans",sans-serif;color:#2a1400;transform:scaleX(0.9938)'>Last Price</span>
<span class="t bd" style='left:250.75px;top:62.40px;font:normal 11.4px/20px "Liberation Sans","DejaVu Sans",sans-serif;color:#2a1400;transform:scaleX(0.7155)'>BGN</span>
<span class="t bd" style='left:304.50px;top:62.40px;font:normal 11.4px/20px "Liberation Sans","DejaVu Sans",sans-serif;color:#2a1400;transform:scaleX(0.9434)'>Line</span>
<span class="t bd" style='left:370.00px;top:62.40px;font:normal 11px/20px "Liberation Sans","DejaVu Sans",sans-serif;color:#f2f2f2;transform:scaleX(0.6589)'>11)</span>
<span class="t" style='left:382.50px;top:62.40px;font:normal 11.4px/20px "Liberation Sans","DejaVu Sans",sans-serif;color:#f2f2f2;transform:scaleX(0.8869)'>Compare</span>
<span class="t" style='left:446.00px;top:62.40px;font:normal 11.4px/20px "Liberation Sans","DejaVu Sans",sans-serif;color:#f08c5a;transform:scaleX(0.9347)'>Mov. Avgs</span>
<span class="t bd" style='left:587.00px;top:62.40px;font:normal 11.4px/20px "Liberation Sans","DejaVu Sans",sans-serif;color:#2a1400;transform:scaleX(0.9305)'>No Lower Chart</span>
<span class="t bd" style='left:690.00px;top:62.40px;font:normal 11.4px/20px "Liberation Sans","DejaVu Sans",sans-serif;color:#202020;transform:scaleX(0.7136)'>USD</span>
</div>
<div class="ranges">
<span class="t" style='left:17.50px;top:79.00px;font:normal 11.3px/20px "Liberation Sans","DejaVu Sans",sans-serif;color:#c2c6ca;transform:scaleX(0.8402)'>1D</span>
<span class="t" style='left:46.50px;top:79.00px;font:normal 11.3px/20px "Liberation Sans","DejaVu Sans",sans-serif;color:#c2c6ca;transform:scaleX(0.8402)'>3D</span>
<span class="t" style='left:75.50px;top:79.00px;font:normal 11.3px/20px "Liberation Sans","DejaVu Sans",sans-serif;color:#c2c6ca;transform:scaleX(0.8179)'>1M</span>
<span class="t" style='left:104.50px;top:79.00px;font:normal 11.3px/20px "Liberation Sans","DejaVu Sans",sans-serif;color:#c2c6ca;transform:scaleX(0.8179)'>6M</span>
<span class="t" style='left:133.00px;top:79.00px;font:normal 11.3px/20px "Liberation Sans","DejaVu Sans",sans-serif;color:#c2c6ca;transform:scaleX(0.8469)'>YTD</span>
<span class="t" style='left:168.50px;top:79.00px;font:normal 11.3px/20px "Liberation Sans","DejaVu Sans",sans-serif;color:#ffffff;transform:scaleX(0.8402)'>1Y</span>
<span class="t" style='left:197.00px;top:79.00px;font:normal 11.3px/20px "Liberation Sans","DejaVu Sans",sans-serif;color:#c2c6ca;transform:scaleX(0.8402)'>5Y</span>
<span class="t" style='left:222.50px;top:79.00px;font:normal 11.3px/20px "Liberation Sans","DejaVu Sans",sans-serif;color:#c2c6ca;transform:scaleX(0.8759)'>Max</span>
<span class="t" style='left:253.00px;top:79.00px;font:normal 11.3px/20px "Liberation Sans","DejaVu Sans",sans-serif;color:#c2c6ca;transform:scaleX(0.9230)'>Daily</span>
<span class="t" style='left:478.75px;top:78.80px;font:normal 9.5px/20px "Liberation Sans","DejaVu Sans",sans-serif;color:#e8e8e8;letter-spacing:0.000px'>«</span>
<span class="t" style='left:527.50px;top:79.00px;font:normal 11.6px/20px "Liberation Sans","DejaVu Sans",sans-serif;color:#c2c6ca;transform:scaleX(0.9940)'>Security/Study</span>
<span class="t" style='left:645.75px;top:79.00px;font:normal 11.6px/20px "Liberation Sans","DejaVu Sans",sans-serif;color:#c2c6ca;transform:scaleX(0.8792)'>Event</span>
</div>
<pre id="foot">Australia 61 2 9777 8600 Brazil 5511 3048 4500 Europe 44 20 7330 7500 Germany 49 69 9204 1210 Hong Kong 852 2977 6000
Japan 81 3 3201 8900      Singapore 65 6212 1000      U.S. 1 212 318 2000       Copyright 2014 Bloomberg Finance L.P.
                                                             SN 672028 EDT  GMT-4:00 H438-4001-0 21-Mar-2014 07:41:15</pre>
</div></body></html>
